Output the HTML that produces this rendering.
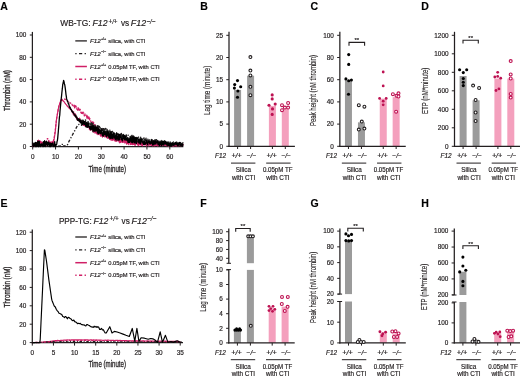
<!DOCTYPE html>
<html><head><meta charset="utf-8"><style>
html,body{margin:0;padding:0;background:#fff;overflow:hidden;}
svg{display:block;will-change:transform;color:#231f20;}
text{font-family:"Liberation Sans", sans-serif;stroke:currentColor;stroke-width:0.18px;}
</style></head><body>
<svg width="520" height="378" viewBox="0 0 520 378" fill="#231f20">
<rect width="520" height="378" fill="#fff"/>
<text x="0.30" y="9.80" font-size="10.5" font-weight="bold" fill="#000">A</text>
<text x="200.20" y="9.80" font-size="10.5" font-weight="bold" fill="#000">B</text>
<text x="310.60" y="9.90" font-size="10.5" font-weight="bold" fill="#000">C</text>
<text x="421.30" y="9.80" font-size="10.5" font-weight="bold" fill="#000">D</text>
<text x="0.50" y="207.00" font-size="10.5" font-weight="bold" fill="#000">E</text>
<text x="200.20" y="207.00" font-size="10.5" font-weight="bold" fill="#000">F</text>
<text x="310.60" y="207.10" font-size="10.5" font-weight="bold" fill="#000">G</text>
<text x="421.30" y="207.00" font-size="10.5" font-weight="bold" fill="#000">H</text>
<text x="60.20" y="26.40" font-size="8.4" textLength="30.40" lengthAdjust="spacingAndGlyphs">WB-TG:</text>
<text x="92.60" y="26.40" font-size="8.4" font-style="italic" textLength="14.90" lengthAdjust="spacingAndGlyphs">F12</text>
<text x="108.60" y="24.00" font-size="7.0" font-style="italic" textLength="8.80" lengthAdjust="spacingAndGlyphs">+/+</text>
<text x="120.90" y="26.40" font-size="8.4" textLength="8.20" lengthAdjust="spacingAndGlyphs">vs</text>
<text x="130.80" y="26.40" font-size="8.4" font-style="italic" textLength="15.30" lengthAdjust="spacingAndGlyphs">F12</text>
<text x="146.40" y="24.00" font-size="7.0" font-style="italic" textLength="9.00" lengthAdjust="spacingAndGlyphs">−/−</text>
<line x1="32.40" y1="31.90" x2="32.40" y2="147.10" stroke="#231f20" stroke-width="1.25"/>
<line x1="31.80" y1="146.50" x2="183.40" y2="146.50" stroke="#231f20" stroke-width="1.25"/>
<line x1="29.80" y1="146.50" x2="32.40" y2="146.50" stroke="#231f20" stroke-width="1.0"/>
<text x="26.40" y="148.80" font-size="6.4" text-anchor="end">0</text>
<line x1="29.80" y1="124.20" x2="32.40" y2="124.20" stroke="#231f20" stroke-width="1.0"/>
<text x="26.40" y="126.50" font-size="6.4" text-anchor="end">20</text>
<line x1="29.80" y1="101.90" x2="32.40" y2="101.90" stroke="#231f20" stroke-width="1.0"/>
<text x="26.40" y="104.20" font-size="6.4" text-anchor="end">40</text>
<line x1="29.80" y1="79.60" x2="32.40" y2="79.60" stroke="#231f20" stroke-width="1.0"/>
<text x="26.40" y="81.90" font-size="6.4" text-anchor="end">60</text>
<line x1="29.80" y1="57.30" x2="32.40" y2="57.30" stroke="#231f20" stroke-width="1.0"/>
<text x="26.40" y="59.60" font-size="6.4" text-anchor="end">80</text>
<line x1="29.80" y1="35.00" x2="32.40" y2="35.00" stroke="#231f20" stroke-width="1.0"/>
<text x="26.40" y="37.30" font-size="6.4" text-anchor="end">100</text>
<line x1="32.70" y1="146.50" x2="32.70" y2="149.50" stroke="#231f20" stroke-width="1.0"/>
<text x="32.70" y="159.20" font-size="6.4" text-anchor="middle">0</text>
<line x1="55.55" y1="146.50" x2="55.55" y2="149.50" stroke="#231f20" stroke-width="1.0"/>
<text x="55.55" y="159.20" font-size="6.4" text-anchor="middle">10</text>
<line x1="78.40" y1="146.50" x2="78.40" y2="149.50" stroke="#231f20" stroke-width="1.0"/>
<text x="78.40" y="159.20" font-size="6.4" text-anchor="middle">20</text>
<line x1="101.25" y1="146.50" x2="101.25" y2="149.50" stroke="#231f20" stroke-width="1.0"/>
<text x="101.25" y="159.20" font-size="6.4" text-anchor="middle">30</text>
<line x1="124.10" y1="146.50" x2="124.10" y2="149.50" stroke="#231f20" stroke-width="1.0"/>
<text x="124.10" y="159.20" font-size="6.4" text-anchor="middle">40</text>
<line x1="146.95" y1="146.50" x2="146.95" y2="149.50" stroke="#231f20" stroke-width="1.0"/>
<text x="146.95" y="159.20" font-size="6.4" text-anchor="middle">50</text>
<line x1="169.80" y1="146.50" x2="169.80" y2="149.50" stroke="#231f20" stroke-width="1.0"/>
<text x="169.80" y="159.20" font-size="6.4" text-anchor="middle">60</text>
<text x="107.20" y="172.00" font-size="8.7" text-anchor="middle" style="stroke-width:0.3px" textLength="37.60" lengthAdjust="spacingAndGlyphs">Time (minute)</text>
<text x="9.60" y="90.50" font-size="8.7" text-anchor="middle" style="stroke-width:0.3px" textLength="40.80" lengthAdjust="spacingAndGlyphs" transform="rotate(-90 9.60 90.50)">Thrombin (nM)</text>
<line x1="75.30" y1="40.90" x2="86.90" y2="40.90" stroke="#231f20" stroke-width="1.3"/>
<text x="89.90" y="43.00" font-size="5.8" font-style="italic" textLength="10.80" lengthAdjust="spacingAndGlyphs">F12</text>
<text x="100.90" y="40.40" font-size="3.9" textLength="5.40" lengthAdjust="spacingAndGlyphs">+/+</text>
<text x="108.30" y="43.00" font-size="5.8" textLength="37.00" lengthAdjust="spacingAndGlyphs">silica, with CTI</text>
<line x1="75.30" y1="53.70" x2="86.90" y2="53.70" stroke="#231f20" stroke-width="1.3" stroke-dasharray="1.3,2.4,3.2,2.4"/>
<text x="89.90" y="55.80" font-size="5.8" font-style="italic" textLength="10.80" lengthAdjust="spacingAndGlyphs">F12</text>
<text x="100.90" y="53.20" font-size="3.9" textLength="5.40" lengthAdjust="spacingAndGlyphs">−/−</text>
<text x="108.30" y="55.80" font-size="5.8" textLength="37.00" lengthAdjust="spacingAndGlyphs">silica, with CTI</text>
<line x1="75.30" y1="66.50" x2="86.90" y2="66.50" stroke="#d01f66" stroke-width="1.5"/>
<text x="89.90" y="68.60" font-size="5.8" font-style="italic" textLength="10.80" lengthAdjust="spacingAndGlyphs">F12</text>
<text x="100.90" y="66.00" font-size="3.9" textLength="5.40" lengthAdjust="spacingAndGlyphs">+/+</text>
<text x="108.30" y="68.60" font-size="5.8" textLength="51.40" lengthAdjust="spacingAndGlyphs">0.05pM TF, with CTI</text>
<line x1="75.30" y1="79.20" x2="86.90" y2="79.20" stroke="#d01f66" stroke-width="1.4" stroke-dasharray="1.3,2.4,3.2,2.4"/>
<text x="89.90" y="81.30" font-size="5.8" font-style="italic" textLength="10.80" lengthAdjust="spacingAndGlyphs">F12</text>
<text x="100.90" y="78.70" font-size="3.9" textLength="5.40" lengthAdjust="spacingAndGlyphs">−/−</text>
<text x="108.30" y="81.30" font-size="5.8" textLength="51.40" lengthAdjust="spacingAndGlyphs">0.05pM TF, with CTI</text>
<polyline points="32.70,146.50 33.00,145.67 33.29,146.27 33.59,145.24 33.89,145.05 34.19,146.50 34.48,146.50 34.78,143.91 35.08,146.14 35.37,146.14 35.67,142.99 35.97,145.00 36.26,143.24 36.56,144.18 36.86,143.02 37.16,144.47 37.45,142.02 37.75,140.58 38.05,141.46 38.34,140.07 38.64,140.46 38.94,143.19 39.24,140.69 39.53,141.65 39.83,143.11 40.13,144.48 40.42,141.42 40.72,143.27 41.02,142.38 41.31,141.84 41.61,142.59 41.91,141.86 42.21,144.07 42.50,142.53 42.80,144.06 43.10,142.19 43.39,142.51 43.69,145.74 43.99,145.69 44.28,145.20 44.58,141.81 44.88,143.55 45.18,142.39 45.47,143.31 45.77,142.10 46.07,142.20 46.36,141.95 46.66,140.63 46.96,140.24 47.26,138.57 47.55,139.08 47.85,138.52 48.15,139.25 48.44,139.14 48.74,140.86 49.04,143.34 49.33,140.97 49.63,140.99 49.93,141.53 50.23,142.88 50.52,142.30 50.82,144.31 51.12,141.82 51.41,142.86 51.71,144.02 52.01,144.91 52.31,141.73 52.60,142.86 52.90,143.01 53.20,141.32 53.49,140.28 53.79,139.17 54.09,137.82 54.38,136.26 54.68,134.74 54.98,132.70 55.28,129.82 55.57,127.62 55.87,124.68 56.17,122.38 56.46,119.51 56.76,117.71 57.06,116.26 57.36,114.22 57.65,112.90 57.95,111.30 58.25,109.24 58.54,107.85 58.84,106.32 59.14,105.47 59.43,104.62 59.73,104.17 60.03,103.51 60.33,102.29 60.62,101.90 60.92,100.79 61.22,100.10 61.51,99.74 61.81,99.64 62.11,99.55 62.41,99.42 62.70,99.40 63.00,99.37 63.30,99.28 63.59,99.04 63.89,99.25 64.19,99.24 64.48,99.02 64.78,99.33 65.08,99.47 65.38,99.24 65.67,99.70 65.97,99.86 66.27,100.37 66.56,100.31 66.86,100.39 67.16,100.91 67.45,100.73 67.75,100.95 68.05,101.52 68.35,101.41 68.64,101.73 68.94,101.83 69.24,102.25 69.53,102.26 69.83,102.47 70.13,103.13 70.43,103.33 70.72,103.19 71.02,103.24 71.32,103.88 71.61,104.12 71.91,103.78 72.21,105.08 72.50,105.11 72.80,105.53 73.10,105.51 73.40,104.81 73.69,106.20 73.99,106.10 74.29,104.72 74.58,107.92 74.88,105.98 75.18,105.56 75.48,107.52 75.77,108.12 76.07,106.04 76.37,108.56 76.66,109.02 76.96,108.28 77.26,107.48 77.55,110.12 77.85,109.49 78.15,109.70 78.45,107.94 78.74,109.78 79.04,108.36 79.34,111.37 79.63,110.95 79.93,109.94 80.23,109.25 80.53,111.24 80.82,112.40 81.12,113.08 81.42,111.71 81.71,113.34 82.01,111.13 82.31,111.27 82.60,114.17 82.90,114.05 83.20,112.20 83.50,113.13 83.79,112.74 84.09,114.85 84.39,115.99 84.68,115.60 84.98,113.85 85.28,116.22 85.57,116.21 85.87,116.22 86.17,116.49 86.47,116.83 86.76,115.06 87.06,118.42 87.36,119.32 87.65,115.84 87.95,116.39 88.25,116.25 88.55,118.75 88.84,116.97 89.14,117.36 89.44,120.48 89.73,118.67 90.03,118.62 90.33,119.66 90.62,120.57 90.92,121.84 91.22,121.96 91.52,122.76 91.81,123.74 92.11,121.99 92.41,123.53 92.70,121.77 93.00,125.18 93.30,122.07 93.60,123.26 93.89,122.67 94.19,123.12 94.49,123.44 94.78,125.08 95.08,127.68 95.38,125.08 95.67,127.72 95.97,127.54 96.27,126.42 96.57,127.31 96.86,128.11 97.16,126.37 97.46,128.04 97.75,129.49 98.05,130.21 98.35,128.13 98.65,130.03 98.94,129.17 99.24,131.26 99.54,132.24 99.83,131.25 100.13,130.48 100.43,133.44 100.72,131.31 101.02,131.15 101.32,131.92 101.62,131.98 101.91,135.38 102.21,133.01 102.51,132.20 102.80,135.59 103.10,134.83 103.40,134.97 103.69,134.05 103.99,134.60 104.29,134.53 104.59,133.43 104.88,136.67 105.18,136.58 105.48,136.42 105.77,136.56 106.07,136.91 106.37,133.40 106.67,134.01 106.96,137.22 107.26,135.68 107.56,136.55 107.85,136.68 108.15,136.66 108.45,135.60 108.74,135.97 109.04,137.01 109.34,137.81 109.64,137.39 109.93,138.34 110.23,136.73 110.53,136.20 110.82,137.64 111.12,138.93 111.42,138.63 111.72,137.94 112.01,137.10 112.31,136.47 112.61,138.18 112.90,136.58 113.20,137.39 113.50,138.24 113.79,138.57 114.09,138.17 114.39,137.43 114.69,138.65 114.98,137.64 115.28,138.67 115.58,139.63 115.87,138.55 116.17,138.00 116.47,140.60 116.77,139.27 117.06,139.35 117.36,137.62 117.66,137.49 117.95,139.83 118.25,137.82 118.55,138.34 118.84,140.56 119.14,139.84 119.44,141.29 119.74,138.60 120.03,139.27 120.33,138.43 120.63,138.87 120.92,139.44 121.22,139.23 121.52,139.98 121.82,141.89 122.11,140.01 122.41,142.42 122.71,141.92 123.00,139.45 123.30,142.45 123.60,142.32 123.89,142.36 124.19,139.28 124.49,142.16 124.79,142.85 125.08,139.63 125.38,142.59 125.68,139.75 125.97,140.50 126.27,139.91 126.57,139.51 126.86,141.07 127.16,140.25 127.46,143.37 127.76,140.50 128.05,141.59 128.35,140.84 128.65,143.35 128.94,140.83 129.24,140.15 129.54,143.72 129.84,142.73 130.13,141.83 130.43,140.83 130.73,143.25 131.02,143.56 131.32,143.30 131.62,141.86 131.91,141.34 132.21,142.81 132.51,142.95 132.81,142.86 133.10,143.07 133.40,142.83 133.70,144.20 133.99,142.56 134.29,140.69 134.59,142.97 134.89,141.65 135.18,144.04 135.48,141.94 135.78,141.71 136.07,142.07 136.37,142.72 136.67,142.89 136.96,142.28 137.26,141.31 137.56,144.28 137.86,144.52 138.15,142.00 138.45,141.38 138.75,142.96 139.04,143.27 139.34,142.24 139.64,144.31 139.94,144.03 140.23,144.31 140.53,142.87 140.83,143.93 141.12,144.26 141.42,142.57 141.72,141.62 142.01,144.10 142.31,142.61 142.61,143.72 142.91,142.12 143.20,143.15 143.50,144.34 143.80,144.55 144.09,145.28 144.39,143.65 144.69,144.03 144.98,144.81 145.28,144.16 145.58,144.33 145.88,142.74 146.17,145.01 146.47,142.04 146.77,143.88 147.06,143.48 147.36,143.95 147.66,142.69 147.96,142.75 148.25,143.68 148.55,143.95 148.85,143.14 149.14,142.69 149.44,144.26 149.74,143.14 150.03,142.39 150.33,144.07 150.63,144.87 150.93,144.86 151.22,143.27 151.52,143.42 151.82,142.50 152.11,142.86 152.41,144.88 152.71,145.06 153.01,144.84 153.30,145.08 153.60,143.42 153.90,142.95 154.19,142.83 154.49,144.90 154.79,142.97 155.08,144.73 155.38,144.39 155.68,143.45 155.98,145.47 156.27,145.45 156.57,143.17 156.87,144.85 157.16,144.66 157.46,143.99 157.76,143.71 158.06,145.75 158.35,144.77 158.65,144.47 158.95,144.33 159.24,145.17 159.54,144.06 159.84,142.99 160.13,144.66 160.43,144.22 160.73,145.47 161.03,145.03 161.32,143.91 161.62,145.51 161.92,143.30 162.21,143.26 162.51,145.57 162.81,143.20 163.10,144.81 163.40,143.71 163.70,143.76 164.00,145.05 164.29,144.02 164.59,144.09 164.89,143.69 165.18,145.17 165.48,143.86 165.78,143.32 166.08,144.11 166.37,144.49 166.67,145.62 166.97,144.62 167.26,145.00 167.56,144.06 167.86,144.18 168.15,144.48 168.45,145.48 168.75,144.30 169.05,144.35 169.34,145.51 169.64,143.73 169.94,144.33 170.23,145.66 170.53,143.66 170.83,145.62 171.13,145.15 171.42,144.20 171.72,144.51 172.02,144.62 172.31,144.40 172.61,144.86 172.91,145.21 173.20,145.53 173.50,145.79 173.80,144.28 174.10,144.20 174.39,144.69 174.69,144.25 174.99,145.12 175.28,145.34 175.58,145.07 175.88,143.98 176.18,145.84 176.47,144.81 176.77,145.39 177.07,144.24 177.36,145.16 177.66,145.21 177.96,145.06 178.25,144.76 178.55,144.26 178.85,145.19 179.15,144.10 179.44,145.73 179.74,145.38 180.04,145.77 180.33,145.74 180.63,144.28 180.93,144.40 181.23,145.60 181.52,145.59 181.82,145.10 182.12,144.38 182.41,144.22 182.71,144.38 183.01,144.73 183.30,145.72" fill="none" stroke="#d01f66" stroke-width="1.2" stroke-linejoin="round" stroke-dasharray="2.4,1.4"/>
<polyline points="32.70,144.11 33.00,144.04 33.29,146.50 33.59,146.50 33.89,144.16 34.19,144.45 34.48,144.61 34.78,145.95 35.08,144.65 35.37,144.54 35.67,144.53 35.97,146.12 36.26,144.92 36.56,144.96 36.86,143.53 37.16,142.33 37.45,142.29 37.75,143.62 38.05,143.73 38.34,144.15 38.64,144.79 38.94,144.54 39.24,142.49 39.53,142.79 39.83,142.79 40.13,141.02 40.42,142.78 40.72,142.93 41.02,144.53 41.31,145.67 41.61,144.75 41.91,145.73 42.21,144.23 42.50,142.27 42.80,143.57 43.10,145.55 43.39,142.69 43.69,143.08 43.99,143.33 44.28,142.64 44.58,143.21 44.88,143.11 45.18,144.86 45.47,142.34 45.77,142.42 46.07,145.63 46.36,143.25 46.66,143.38 46.96,144.36 47.26,144.05 47.55,144.17 47.85,142.39 48.15,144.05 48.44,142.69 48.74,144.57 49.04,142.41 49.33,142.31 49.63,144.03 49.93,143.57 50.23,142.12 50.52,142.87 50.82,143.79 51.12,144.80 51.41,144.32 51.71,142.75 52.01,144.82 52.31,141.78 52.60,144.28 52.90,143.04 53.20,143.34 53.49,142.88 53.79,141.17 54.09,139.43 54.38,137.55 54.68,135.61 54.98,133.78 55.28,131.45 55.57,128.61 55.87,125.53 56.17,122.38 56.46,119.67 56.76,118.26 57.06,116.07 57.36,114.39 57.65,112.54 57.95,111.23 58.25,109.16 58.54,107.83 58.84,106.01 59.14,105.39 59.43,104.58 59.73,103.34 60.03,102.96 60.33,101.87 60.62,100.83 60.92,100.35 61.22,99.53 61.51,99.21 61.81,99.73 62.11,99.81 62.41,100.47 62.70,100.52 63.00,100.89 63.30,100.83 63.59,101.44 63.89,101.22 64.19,102.17 64.48,102.13 64.78,102.95 65.08,103.20 65.38,103.25 65.67,104.04 65.97,104.41 66.27,104.49 66.56,105.07 66.86,105.66 67.16,105.48 67.45,106.37 67.75,106.77 68.05,106.90 68.35,107.07 68.64,107.31 68.94,108.02 69.24,108.21 69.53,108.72 69.83,108.79 70.13,108.92 70.43,109.26 70.72,109.49 71.02,109.90 71.32,110.16 71.61,109.88 71.91,111.14 72.21,112.45 72.50,111.09 72.80,112.87 73.10,114.12 73.40,113.12 73.69,111.80 73.99,115.19 74.29,113.75 74.58,114.91 74.88,114.81 75.18,116.69 75.48,113.81 75.77,117.01 76.07,116.01 76.37,117.15 76.66,119.15 76.96,117.33 77.26,119.31 77.55,119.96 77.85,120.36 78.15,120.15 78.45,120.72 78.74,118.86 79.04,119.68 79.34,118.08 79.63,118.58 79.93,118.65 80.23,122.01 80.53,121.47 80.82,122.51 81.12,121.36 81.42,121.45 81.71,120.96 82.01,121.54 82.31,123.58 82.60,123.13 82.90,122.93 83.20,125.24 83.50,125.33 83.79,124.05 84.09,125.47 84.39,123.22 84.68,125.38 84.98,126.16 85.28,126.05 85.57,126.07 85.87,126.34 86.17,125.34 86.47,125.79 86.76,126.63 87.06,125.51 87.36,127.45 87.65,124.88 87.95,124.87 88.25,126.03 88.55,127.43 88.84,127.34 89.14,127.28 89.44,129.62 89.73,128.36 90.03,128.12 90.33,129.68 90.62,130.20 90.92,127.53 91.22,129.46 91.52,129.02 91.81,127.57 92.11,129.00 92.41,130.46 92.70,127.85 93.00,130.48 93.30,132.07 93.60,129.57 93.89,132.09 94.19,131.44 94.49,129.46 94.78,130.31 95.08,133.12 95.38,131.55 95.67,131.89 95.97,131.76 96.27,133.05 96.57,131.69 96.86,133.93 97.16,133.26 97.46,133.08 97.75,131.00 98.05,134.62 98.35,132.07 98.65,134.50 98.94,133.15 99.24,134.05 99.54,133.94 99.83,132.95 100.13,134.56 100.43,135.83 100.72,136.00 101.02,136.34 101.32,133.41 101.62,134.36 101.91,133.19 102.21,134.37 102.51,137.16 102.80,134.72 103.10,134.36 103.40,134.68 103.69,135.70 103.99,136.37 104.29,136.08 104.59,134.81 104.88,137.05 105.18,136.13 105.48,136.43 105.77,134.62 106.07,135.34 106.37,134.93 106.67,135.43 106.96,137.70 107.26,138.07 107.56,137.15 107.85,138.18 108.15,137.61 108.45,136.71 108.74,135.86 109.04,137.30 109.34,136.48 109.64,139.48 109.93,138.55 110.23,136.08 110.53,139.60 110.82,138.60 111.12,140.10 111.42,140.11 111.72,136.95 112.01,136.67 112.31,138.13 112.61,140.30 112.90,139.72 113.20,140.07 113.50,138.40 113.79,138.45 114.09,139.51 114.39,139.26 114.69,141.00 114.98,139.37 115.28,137.82 115.58,138.69 115.87,141.43 116.17,139.83 116.47,139.13 116.77,141.06 117.06,138.59 117.36,140.42 117.66,139.54 117.95,140.83 118.25,138.55 118.55,139.49 118.84,140.42 119.14,142.23 119.44,141.13 119.74,142.85 120.03,140.64 120.33,139.55 120.63,142.42 120.92,141.16 121.22,141.33 121.52,141.69 121.82,140.53 122.11,139.68 122.41,140.66 122.71,141.66 123.00,139.75 123.30,142.34 123.60,140.73 123.89,141.14 124.19,140.78 124.49,140.48 124.79,143.05 125.08,141.52 125.38,142.46 125.68,141.45 125.97,140.27 126.27,141.70 126.57,144.26 126.86,142.50 127.16,141.57 127.46,140.93 127.76,141.93 128.05,141.32 128.35,144.58 128.65,140.93 128.94,141.84 129.24,142.39 129.54,141.25 129.84,141.39 130.13,144.60 130.43,141.79 130.73,142.04 131.02,144.37 131.32,142.21 131.62,142.86 131.91,144.47 132.21,142.04 132.51,144.74 132.81,142.86 133.10,143.60 133.40,144.35 133.70,143.12 133.99,143.54 134.29,144.62 134.59,141.59 134.89,145.20 135.18,145.50 135.48,143.59 135.78,142.21 136.07,142.95 136.37,142.60 136.67,143.69 136.96,142.97 137.26,144.33 137.56,144.62 137.86,143.72 138.15,145.60 138.45,145.41 138.75,142.82 139.04,145.09 139.34,142.89 139.64,142.79 139.94,144.27 140.23,143.26 140.53,142.87 140.83,142.60 141.12,145.38 141.42,145.30 141.72,144.50 142.01,144.21 142.31,144.87 142.61,145.94 142.91,143.94 143.20,142.46 143.50,144.69 143.80,144.09 144.09,144.68 144.39,144.49 144.69,142.97 144.98,145.02 145.28,143.82 145.58,144.44 145.88,144.27 146.17,142.96 146.47,145.95 146.77,143.34 147.06,145.18 147.36,143.99 147.66,143.48 147.96,143.98 148.25,144.89 148.55,143.35 148.85,145.93 149.14,144.08 149.44,144.91 149.74,144.44 150.03,143.37 150.33,143.56 150.63,144.13 150.93,145.21 151.22,145.46 151.52,144.72 151.82,145.47 152.11,145.32 152.41,143.10 152.71,145.87 153.01,143.58 153.30,145.01 153.60,145.06 153.90,145.21 154.19,145.98 154.49,144.78 154.79,145.70 155.08,144.83 155.38,145.31 155.68,143.43 155.98,143.36 156.27,144.85 156.57,144.25 156.87,143.36 157.16,145.22 157.46,145.92 157.76,145.50 158.06,145.65 158.35,144.18 158.65,145.10 158.95,145.16 159.24,143.86 159.54,145.53 159.84,143.84 160.13,144.36 160.43,145.05 160.73,143.82 161.03,145.22 161.32,143.68 161.62,143.56 161.92,144.78 162.21,144.25 162.51,143.53 162.81,144.12 163.10,144.10 163.40,143.78 163.70,143.61 164.00,144.13 164.29,143.51 164.59,145.41 164.89,144.51 165.18,144.39 165.48,145.21 165.78,145.14 166.08,145.74 166.37,143.65 166.67,145.26 166.97,144.95 167.26,143.86 167.56,145.71 167.86,143.71 168.15,145.87 168.45,146.12 168.75,145.30 169.05,145.28 169.34,143.87 169.64,143.97 169.94,144.29 170.23,145.10 170.53,144.85 170.83,145.60 171.13,144.14 171.42,145.23 171.72,145.49 172.02,144.64 172.31,145.82 172.61,145.42 172.91,143.98 173.20,145.95 173.50,145.84 173.80,145.69 174.10,145.59 174.39,145.20 174.69,145.59 174.99,145.38 175.28,145.60 175.58,145.62 175.88,144.79 176.18,145.41 176.47,145.33 176.77,144.46 177.07,146.02 177.36,145.85 177.66,144.29 177.96,145.23 178.25,144.46 178.55,145.89 178.85,145.04 179.15,144.33 179.44,145.45 179.74,144.51 180.04,144.86 180.33,145.34 180.63,144.02 180.93,145.36 181.23,145.18 181.52,144.87 181.82,145.54 182.12,144.39 182.41,144.93 182.71,144.95 183.01,145.07 183.30,144.09" fill="none" stroke="#d01f66" stroke-width="1.15" stroke-linejoin="round"/>
<polyline points="57.84,146.17 58.13,146.15 58.43,146.13 58.73,146.11 59.02,146.09 59.32,146.07 59.62,146.06 59.91,146.04 60.21,146.02 60.51,146.00 60.81,145.98 61.10,145.97 61.40,145.95 61.70,145.54 61.99,144.96 62.29,144.38 62.59,143.80 62.88,144.20 63.18,144.78 63.48,145.36 63.78,145.94 64.07,145.96 64.37,145.98 64.67,146.00 64.96,146.03 65.26,146.05 65.56,146.07 65.86,146.09 66.15,146.11 66.45,146.13 66.75,146.15 67.04,145.98 67.34,145.19 67.64,144.40 67.93,143.61 68.23,142.82 68.53,142.26 68.83,141.71 69.12,141.15 69.42,140.60 69.72,140.04 70.01,139.49 70.31,138.93 70.61,138.38 70.91,137.82 71.20,137.26 71.50,136.71 71.80,136.15 72.09,135.60 72.39,135.04 72.69,134.49 72.98,133.93 73.28,133.37 73.58,132.82 73.88,132.26 74.17,131.71 74.47,131.15 74.77,130.60 75.06,130.04 75.36,129.49 75.66,128.93 75.96,128.37 76.25,127.82 76.55,127.26 76.85,126.71 77.14,126.15 77.44,125.60 77.74,125.04 78.03,124.78 78.33,124.64 78.63,124.51 78.93,124.38 79.22,124.25 79.52,124.11 79.82,123.98 80.11,123.85 80.41,123.72 80.71,120.75 81.00,121.99 81.30,120.45 81.60,126.20 81.90,124.39 82.19,120.13 82.49,121.28 82.79,123.52 83.08,120.15 83.38,122.13 83.68,120.86 83.98,124.10 84.27,124.69 84.57,123.08 84.87,124.96 85.16,123.39 85.46,119.83 85.76,123.86 86.05,125.98 86.35,125.86 86.65,125.18 86.95,121.44 87.24,124.18 87.54,124.73 87.84,126.04 88.13,120.61 88.43,124.20 88.73,125.65 89.03,126.68 89.32,126.81 89.62,126.20 89.92,123.14 90.21,126.58 90.51,127.40 90.81,124.74 91.10,126.39 91.40,121.86 91.70,127.47 92.00,125.08 92.29,123.69 92.59,126.12 92.89,122.65 93.18,125.98 93.48,127.60 93.78,126.69 94.08,129.17 94.37,126.91 94.67,128.13 94.97,124.28 95.26,124.79 95.56,127.01 95.86,130.07 96.15,128.82 96.45,129.04 96.75,129.40 97.05,129.40 97.34,125.56 97.64,130.25 97.94,130.96 98.23,125.63 98.53,128.04 98.83,125.53 99.12,129.34 99.42,126.38 99.72,128.07 100.02,127.36 100.31,127.79 100.61,129.50 100.91,132.15 101.20,131.56 101.50,127.53 101.80,127.48 102.10,127.43 102.39,131.21 102.69,129.32 102.99,128.54 103.28,129.63 103.58,128.66 103.88,130.56 104.17,129.88 104.47,129.79 104.77,132.51 105.07,128.53 105.36,128.43 105.66,134.05 105.96,128.56 106.25,128.72 106.55,130.66 106.85,134.67 107.15,129.44 107.44,134.37 107.74,129.22 108.04,131.21 108.33,135.11 108.63,134.55 108.93,131.74 109.22,132.26 109.52,131.26 109.82,130.24 110.12,134.78 110.41,136.23 110.71,130.58 111.01,136.35 111.30,131.05 111.60,135.89 111.90,131.65 112.20,131.90 112.49,131.40 112.79,133.54 113.09,131.58 113.38,135.90 113.68,133.05 113.98,135.27 114.27,131.86 114.57,132.69 114.87,134.66 115.17,134.41 115.46,137.62 115.76,137.67 116.06,134.26 116.35,135.01 116.65,132.75 116.95,134.44 117.25,137.47 117.54,136.16 117.84,133.72 118.14,135.34 118.43,138.63 118.73,133.56 119.03,133.71 119.32,138.44 119.62,135.65 119.92,136.73 120.22,134.25 120.51,137.28 120.81,137.82 121.11,136.30 121.40,133.36 121.70,138.86 122.00,138.80 122.29,135.69 122.59,134.10 122.89,136.49 123.19,137.03 123.48,134.44 123.78,135.01 124.08,139.50 124.37,134.47 124.67,138.81 124.97,138.20 125.27,134.93 125.56,137.57 125.86,135.28 126.16,139.28 126.45,134.92 126.75,139.34 127.05,139.56 127.34,137.47 127.64,138.50 127.94,137.29 128.24,135.08 128.53,136.35 128.83,140.81 129.13,138.96 129.42,137.56 129.72,137.98 130.02,136.61 130.32,138.11 130.61,140.72 130.91,139.72 131.21,136.01 131.50,139.13 131.80,136.62 132.10,135.30 132.39,137.60 132.69,137.34 132.99,137.81 133.29,139.71 133.58,136.02 133.88,138.85 134.18,136.13 134.47,139.96 134.77,136.51 135.07,137.06 135.37,138.20 135.66,139.32 135.96,141.24 136.26,137.38 136.55,139.96 136.85,138.17 137.15,141.47 137.44,141.82 137.74,141.49 138.04,137.50 138.34,141.37 138.63,137.05 138.93,140.30 139.23,139.12 139.52,140.52 139.82,138.96 140.12,142.15 140.41,140.36 140.71,137.27 141.01,141.77 141.31,139.04 141.60,141.00 141.90,141.20 142.20,142.86 142.49,142.92 142.79,137.62 143.09,138.36 143.39,138.59 143.68,138.61 143.98,137.84 144.28,142.39 144.57,140.04 144.87,140.59 145.17,140.20 145.46,138.23 145.76,139.27 146.06,138.18 146.36,142.93 146.65,140.04 146.95,139.97 147.25,139.63 147.54,140.36 147.84,139.24 148.14,142.13 148.44,138.80 148.73,141.64 149.03,140.64 149.33,139.10 149.62,140.16 149.92,142.27 150.22,142.72 150.51,142.25 150.81,140.72 151.11,138.84 151.41,139.39 151.70,141.99 152.00,142.02 152.30,139.93 152.59,142.68 152.89,142.07 153.19,144.11 153.49,143.28 153.78,141.52 154.08,140.80 154.38,141.23 154.67,142.50 154.97,139.65 155.27,141.30 155.56,143.61 155.86,144.07 156.16,139.71 156.46,139.69 156.75,140.06 157.05,141.61 157.35,143.04 157.64,144.11 157.94,143.35 158.24,143.55 158.53,140.28 158.83,140.48 159.13,141.05 159.43,143.99 159.72,143.60 160.02,143.34 160.32,140.41 160.61,144.01 160.91,141.20 161.21,141.73 161.51,142.36 161.80,140.55 162.10,143.68 162.40,142.55 162.69,144.19 162.99,144.47 163.29,144.78 163.58,143.57 163.88,144.43 164.18,144.71 164.48,140.76 164.77,143.78 165.07,141.27 165.37,142.10 165.66,142.01 165.96,142.36 166.26,141.16 166.56,141.50 166.85,142.19 167.15,142.87 167.45,142.36 167.74,142.27 168.04,143.00 168.34,143.23 168.63,144.64 168.93,141.93 169.23,143.38 169.53,145.05 169.82,144.67 170.12,141.94 170.42,144.35 170.71,143.84 171.01,142.74 171.31,142.08 171.61,144.11 171.90,143.91 172.20,143.78 172.50,145.26 172.79,142.13 173.09,145.31 173.39,141.87 173.68,144.83 173.98,144.82 174.28,142.34 174.58,142.45 174.87,144.58 175.17,143.45 175.47,143.74 175.76,142.91 176.06,144.78 176.36,142.57 176.66,142.01 176.95,143.02 177.25,142.29 177.55,142.25 177.84,144.18 178.14,142.59 178.44,142.65 178.73,143.51 179.03,145.18 179.33,143.43 179.63,142.44 179.92,144.54 180.22,143.38 180.52,142.54 180.81,143.57 181.11,145.52 181.41,143.49 181.70,144.80 182.00,142.74 182.30,143.43 182.60,144.66 182.89,142.66 183.19,143.60 183.49,144.60" fill="none" stroke="#231f20" stroke-width="1.35" stroke-linejoin="round" stroke-dasharray="3.0,1.8,1.2,1.8"/>
<polyline points="32.70,146.50 33.00,142.99 33.29,143.48 33.59,146.50 33.89,145.13 34.19,145.36 34.48,143.94 34.78,142.95 35.08,146.50 35.37,146.50 35.67,142.41 35.97,145.04 36.26,142.76 36.56,146.50 36.86,144.74 37.16,142.82 37.45,146.06 37.75,141.23 38.05,141.49 38.34,146.50 38.64,146.50 38.94,143.79 39.24,141.09 39.53,144.79 39.83,145.85 40.13,144.44 40.42,146.50 40.72,145.71 41.02,144.23 41.31,143.80 41.61,145.53 41.91,145.52 42.21,145.64 42.50,144.06 42.80,145.24 43.10,146.50 43.39,141.64 43.69,143.56 43.99,143.02 44.28,146.11 44.58,140.75 44.88,141.68 45.18,146.50 45.47,145.27 45.77,142.71 46.07,142.82 46.36,141.34 46.66,144.82 46.96,142.13 47.26,143.23 47.55,145.72 47.85,143.86 48.15,141.92 48.44,142.20 48.74,144.52 49.04,144.00 49.33,146.50 49.63,146.38 49.93,142.71 50.23,145.31 50.52,146.50 50.82,144.48 51.12,143.47 51.41,143.66 51.71,145.67 52.01,145.24 52.31,144.77 52.60,142.96 52.90,144.69 53.20,145.54 53.49,144.90 53.79,146.50 54.09,146.50 54.38,143.47 54.68,141.59 54.98,144.20 55.28,145.54 55.57,146.50 55.87,145.01 56.17,144.40 56.46,144.93 56.76,143.63 57.06,141.40 57.36,140.76 57.65,138.60 57.95,135.36 58.25,132.16 58.54,128.55 58.84,125.05 59.14,120.76 59.43,116.85 59.73,115.39 60.03,111.04 60.33,107.92 60.62,104.76 60.92,101.95 61.22,98.80 61.51,96.32 61.81,93.27 62.11,90.53 62.41,88.18 62.70,84.67 63.00,83.55 63.30,82.55 63.59,80.41 63.89,81.10 64.19,82.64 64.48,84.00 64.78,85.01 65.08,86.95 65.38,89.11 65.67,91.51 65.97,94.37 66.27,96.17 66.56,98.40 66.86,99.86 67.16,100.11 67.45,100.92 67.75,101.63 68.05,102.30 68.35,103.95 68.64,103.68 68.94,104.67 69.24,106.36 69.53,107.18 69.83,107.82 70.13,107.10 70.43,108.47 70.72,109.23 71.02,108.89 71.32,109.88 71.61,110.86 71.91,111.26 72.21,111.06 72.50,112.16 72.80,112.40 73.10,111.95 73.40,112.90 73.69,113.61 73.99,113.71 74.29,115.16 74.58,114.76 74.88,115.11 75.18,116.13 75.48,116.78 75.77,115.19 76.07,116.64 76.37,117.89 76.66,117.24 76.96,117.06 77.26,119.80 77.55,120.24 77.85,120.16 78.15,118.68 78.45,120.73 78.74,119.26 79.04,119.61 79.34,120.33 79.63,121.73 79.93,119.37 80.23,120.26 80.53,121.54 80.82,122.91 81.12,121.50 81.42,122.59 81.71,122.02 82.01,123.15 82.31,122.04 82.60,124.51 82.90,123.66 83.20,120.97 83.50,121.47 83.79,124.05 84.09,121.75 84.39,124.32 84.68,121.59 84.98,122.64 85.28,124.35 85.57,125.34 85.87,126.73 86.17,122.71 86.47,127.04 86.76,123.35 87.06,122.80 87.36,124.98 87.65,127.25 87.95,123.80 88.25,123.41 88.55,125.03 88.84,126.29 89.14,127.21 89.44,127.59 89.73,128.59 90.03,126.09 90.33,127.62 90.62,129.17 90.92,129.87 91.22,126.67 91.52,129.05 91.81,127.96 92.11,129.18 92.41,125.92 92.70,125.87 93.00,131.61 93.30,130.61 93.60,129.95 93.89,125.77 94.19,127.24 94.49,130.34 94.78,131.33 95.08,128.38 95.38,127.44 95.67,126.95 95.97,131.03 96.27,127.57 96.57,129.02 96.86,130.53 97.16,127.32 97.46,132.49 97.75,129.35 98.05,133.78 98.35,133.36 98.65,128.54 98.94,133.36 99.24,129.85 99.54,131.06 99.83,129.59 100.13,132.90 100.43,133.23 100.72,133.70 101.02,129.99 101.32,131.89 101.62,129.63 101.91,130.17 102.21,135.29 102.51,132.60 102.80,135.68 103.10,136.21 103.40,136.07 103.69,130.86 103.99,131.47 104.29,131.29 104.59,134.64 104.88,132.90 105.18,131.88 105.48,134.67 105.77,133.47 106.07,135.88 106.37,136.92 106.67,135.77 106.96,131.69 107.26,133.96 107.56,131.64 107.85,134.86 108.15,136.16 108.45,132.84 108.74,132.66 109.04,138.20 109.34,133.89 109.64,137.85 109.93,137.79 110.23,132.73 110.53,138.46 110.82,137.20 111.12,132.26 111.42,136.13 111.72,138.25 112.01,137.97 112.31,137.55 112.61,134.26 112.90,138.62 113.20,133.29 113.50,136.92 113.79,133.03 114.09,133.52 114.39,137.70 114.69,138.05 114.98,136.62 115.28,139.22 115.58,135.60 115.87,139.77 116.17,140.04 116.47,133.60 116.77,138.27 117.06,136.33 117.36,137.39 117.66,138.37 117.95,140.12 118.25,134.50 118.55,134.20 118.84,134.27 119.14,140.09 119.44,139.46 119.74,136.83 120.03,134.47 120.33,137.45 120.63,136.54 120.92,136.77 121.22,139.52 121.52,137.69 121.82,139.32 122.11,139.78 122.41,140.94 122.71,139.67 123.00,135.02 123.30,138.66 123.60,137.36 123.89,137.47 124.19,135.54 124.49,139.28 124.79,139.90 125.08,139.82 125.38,139.95 125.68,136.46 125.97,136.21 126.27,140.21 126.57,140.06 126.86,138.72 127.16,138.54 127.46,138.49 127.76,140.89 128.05,142.45 128.35,141.02 128.65,142.22 128.94,139.07 129.24,142.35 129.54,142.38 129.84,138.69 130.13,141.05 130.43,137.75 130.73,139.81 131.02,137.39 131.32,142.17 131.62,139.89 131.91,137.97 132.21,142.81 132.51,137.02 132.81,142.25 133.10,138.26 133.40,136.91 133.70,138.04 133.99,141.44 134.29,142.91 134.59,140.22 134.89,137.55 135.18,141.78 135.48,137.81 135.78,142.87 136.07,137.79 136.37,143.67 136.67,141.82 136.96,137.99 137.26,138.70 137.56,138.07 137.86,138.55 138.15,139.21 138.45,139.63 138.75,142.97 139.04,141.37 139.34,143.17 139.64,139.65 139.94,139.99 140.23,142.67 140.53,143.90 140.83,138.27 141.12,139.29 141.42,140.96 141.72,141.05 142.01,139.17 142.31,141.68 142.61,142.08 142.91,142.47 143.20,143.00 143.50,144.46 143.80,140.71 144.09,142.15 144.39,141.26 144.69,144.36 144.98,142.64 145.28,143.97 145.58,144.08 145.88,143.32 146.17,139.99 146.47,142.57 146.77,142.59 147.06,141.39 147.36,143.63 147.66,144.97 147.96,141.97 148.25,142.16 148.55,141.34 148.85,142.58 149.14,141.19 149.44,140.97 149.74,143.79 150.03,142.37 150.33,142.49 150.63,143.93 150.93,142.92 151.22,142.12 151.52,140.24 151.82,140.22 152.11,143.77 152.41,141.77 152.71,145.06 153.01,144.95 153.30,142.60 153.60,140.66 153.90,144.54 154.19,141.33 154.49,140.75 154.79,143.80 155.08,141.82 155.38,141.04 155.68,143.56 155.98,141.88 156.27,141.73 156.57,142.49 156.87,141.18 157.16,141.01 157.46,140.73 157.76,142.73 158.06,144.76 158.35,144.40 158.65,144.58 158.95,142.85 159.24,141.94 159.54,145.44 159.84,142.36 160.13,142.21 160.43,144.04 160.73,143.24 161.03,144.95 161.32,142.25 161.62,145.57 161.92,141.11 162.21,141.96 162.51,142.83 162.81,144.55 163.10,141.55 163.40,141.36 163.70,145.19 164.00,142.27 164.29,141.99 164.59,142.85 164.89,142.69 165.18,143.87 165.48,141.73 165.78,141.55 166.08,144.21 166.37,142.36 166.67,144.02 166.97,145.21 167.26,144.52 167.56,145.41 167.86,142.04 168.15,141.85 168.45,145.47 168.75,143.43 169.05,144.27 169.34,145.51 169.64,144.78 169.94,144.99 170.23,142.92 170.53,146.01 170.83,145.25 171.13,144.24 171.42,145.95 171.72,143.50 172.02,143.60 172.31,142.70 172.61,145.22 172.91,144.91 173.20,143.91 173.50,144.97 173.80,143.76 174.10,145.07 174.39,143.42 174.69,143.02 174.99,142.97 175.28,142.37 175.58,144.00 175.88,144.22 176.18,142.87 176.47,143.21 176.77,143.96 177.07,144.66 177.36,145.04 177.66,145.70 177.96,143.14 178.25,145.68 178.55,143.38 178.85,144.14 179.15,142.60 179.44,143.37 179.74,142.60 180.04,145.69 180.33,144.36 180.63,144.11 180.93,145.08 181.23,144.39 181.52,144.94 181.82,144.32 182.12,146.27 182.41,144.66 182.71,144.65 183.01,145.19 183.30,144.85" fill="none" stroke="#000" stroke-width="1.3" stroke-linejoin="round"/>
<text x="58.90" y="223.60" font-size="8.4" textLength="32.80" lengthAdjust="spacingAndGlyphs">PPP-TG:</text>
<text x="93.50" y="223.60" font-size="8.4" font-style="italic" textLength="14.90" lengthAdjust="spacingAndGlyphs">F12</text>
<text x="109.60" y="221.20" font-size="7.0" font-style="italic" textLength="9.20" lengthAdjust="spacingAndGlyphs">+/+</text>
<text x="121.60" y="223.60" font-size="8.4" textLength="8.20" lengthAdjust="spacingAndGlyphs">vs</text>
<text x="131.60" y="223.60" font-size="8.4" font-style="italic" textLength="15.40" lengthAdjust="spacingAndGlyphs">F12</text>
<text x="146.90" y="221.20" font-size="7.0" font-style="italic" textLength="9.60" lengthAdjust="spacingAndGlyphs">−/−</text>
<line x1="32.30" y1="229.40" x2="32.30" y2="343.20" stroke="#231f20" stroke-width="1.25"/>
<line x1="31.70" y1="342.60" x2="183.00" y2="342.60" stroke="#231f20" stroke-width="1.25"/>
<line x1="29.70" y1="342.60" x2="32.30" y2="342.60" stroke="#231f20" stroke-width="1.0"/>
<text x="26.30" y="344.90" font-size="6.4" text-anchor="end">0</text>
<line x1="29.70" y1="324.20" x2="32.30" y2="324.20" stroke="#231f20" stroke-width="1.0"/>
<text x="26.30" y="326.50" font-size="6.4" text-anchor="end">20</text>
<line x1="29.70" y1="305.80" x2="32.30" y2="305.80" stroke="#231f20" stroke-width="1.0"/>
<text x="26.30" y="308.10" font-size="6.4" text-anchor="end">40</text>
<line x1="29.70" y1="287.40" x2="32.30" y2="287.40" stroke="#231f20" stroke-width="1.0"/>
<text x="26.30" y="289.70" font-size="6.4" text-anchor="end">60</text>
<line x1="29.70" y1="269.00" x2="32.30" y2="269.00" stroke="#231f20" stroke-width="1.0"/>
<text x="26.30" y="271.30" font-size="6.4" text-anchor="end">80</text>
<line x1="29.70" y1="250.60" x2="32.30" y2="250.60" stroke="#231f20" stroke-width="1.0"/>
<text x="26.30" y="252.90" font-size="6.4" text-anchor="end">100</text>
<line x1="29.70" y1="232.20" x2="32.30" y2="232.20" stroke="#231f20" stroke-width="1.0"/>
<text x="26.30" y="234.50" font-size="6.4" text-anchor="end">120</text>
<line x1="32.30" y1="342.60" x2="32.30" y2="345.60" stroke="#231f20" stroke-width="1.0"/>
<text x="32.30" y="355.00" font-size="6.4" text-anchor="middle">0</text>
<line x1="53.43" y1="342.60" x2="53.43" y2="345.60" stroke="#231f20" stroke-width="1.0"/>
<text x="53.43" y="355.00" font-size="6.4" text-anchor="middle">5</text>
<line x1="74.56" y1="342.60" x2="74.56" y2="345.60" stroke="#231f20" stroke-width="1.0"/>
<text x="74.56" y="355.00" font-size="6.4" text-anchor="middle">10</text>
<line x1="95.69" y1="342.60" x2="95.69" y2="345.60" stroke="#231f20" stroke-width="1.0"/>
<text x="95.69" y="355.00" font-size="6.4" text-anchor="middle">15</text>
<line x1="116.82" y1="342.60" x2="116.82" y2="345.60" stroke="#231f20" stroke-width="1.0"/>
<text x="116.82" y="355.00" font-size="6.4" text-anchor="middle">20</text>
<line x1="137.95" y1="342.60" x2="137.95" y2="345.60" stroke="#231f20" stroke-width="1.0"/>
<text x="137.95" y="355.00" font-size="6.4" text-anchor="middle">25</text>
<line x1="159.08" y1="342.60" x2="159.08" y2="345.60" stroke="#231f20" stroke-width="1.0"/>
<text x="159.08" y="355.00" font-size="6.4" text-anchor="middle">30</text>
<line x1="180.21" y1="342.60" x2="180.21" y2="345.60" stroke="#231f20" stroke-width="1.0"/>
<text x="180.21" y="355.00" font-size="6.4" text-anchor="middle">35</text>
<text x="107.20" y="366.50" font-size="8.7" text-anchor="middle" style="stroke-width:0.3px" textLength="37.60" lengthAdjust="spacingAndGlyphs">Time (minute)</text>
<text x="9.50" y="287.00" font-size="8.7" text-anchor="middle" style="stroke-width:0.3px" textLength="40.80" lengthAdjust="spacingAndGlyphs" transform="rotate(-90 9.50 287.00)">Thrombin (nM)</text>
<line x1="75.30" y1="237.00" x2="86.90" y2="237.00" stroke="#231f20" stroke-width="1.3"/>
<text x="89.90" y="239.10" font-size="5.8" font-style="italic" textLength="10.80" lengthAdjust="spacingAndGlyphs">F12</text>
<text x="100.90" y="236.50" font-size="3.9" textLength="5.40" lengthAdjust="spacingAndGlyphs">+/+</text>
<text x="108.30" y="239.10" font-size="5.8" textLength="37.00" lengthAdjust="spacingAndGlyphs">silica, with CTI</text>
<line x1="75.30" y1="249.80" x2="86.90" y2="249.80" stroke="#231f20" stroke-width="1.3" stroke-dasharray="1.3,2.4,3.2,2.4"/>
<text x="89.90" y="251.90" font-size="5.8" font-style="italic" textLength="10.80" lengthAdjust="spacingAndGlyphs">F12</text>
<text x="100.90" y="249.30" font-size="3.9" textLength="5.40" lengthAdjust="spacingAndGlyphs">−/−</text>
<text x="108.30" y="251.90" font-size="5.8" textLength="37.00" lengthAdjust="spacingAndGlyphs">silica, with CTI</text>
<line x1="75.30" y1="262.70" x2="86.90" y2="262.70" stroke="#d01f66" stroke-width="1.5"/>
<text x="89.90" y="264.80" font-size="5.8" font-style="italic" textLength="10.80" lengthAdjust="spacingAndGlyphs">F12</text>
<text x="100.90" y="262.20" font-size="3.9" textLength="5.40" lengthAdjust="spacingAndGlyphs">+/+</text>
<text x="108.30" y="264.80" font-size="5.8" textLength="51.40" lengthAdjust="spacingAndGlyphs">0.05pM TF, with CTI</text>
<line x1="75.30" y1="275.30" x2="86.90" y2="275.30" stroke="#d01f66" stroke-width="1.4" stroke-dasharray="1.3,2.4,3.2,2.4"/>
<text x="89.90" y="277.40" font-size="5.8" font-style="italic" textLength="10.80" lengthAdjust="spacingAndGlyphs">F12</text>
<text x="100.90" y="274.80" font-size="3.9" textLength="5.40" lengthAdjust="spacingAndGlyphs">−/−</text>
<text x="108.30" y="277.40" font-size="5.8" textLength="51.40" lengthAdjust="spacingAndGlyphs">0.05pM TF, with CTI</text>
<polyline points="32.30,342.57 33.36,342.52 34.41,342.49 35.47,342.43 36.53,342.46 37.58,342.39 38.64,342.57 39.70,342.45 40.75,342.32 41.81,342.27 42.86,342.10 43.92,342.16 44.98,341.96 46.03,341.90 47.09,341.72 48.15,341.59 49.20,341.60 50.26,341.43 51.32,341.29 52.37,341.02 53.43,340.93 54.49,340.94 55.54,340.67 56.60,340.69 57.66,340.46 58.71,340.51 59.77,340.48 60.83,340.23 61.88,340.32 62.94,340.26 63.99,340.03 65.05,340.00 66.11,340.07 67.16,339.91 68.22,339.98 69.28,339.94 70.33,340.03 71.39,339.85 72.45,339.89 73.50,339.81 74.56,339.81 75.62,339.93 76.67,339.90 77.73,339.93 78.79,339.92 79.84,339.95 80.90,339.91 81.96,339.85 83.01,340.00 84.07,339.86 85.12,339.94 86.18,339.96 87.24,339.86 88.29,339.95 89.35,340.00 90.41,339.97 91.46,339.93 92.52,340.09 93.58,339.90 94.63,340.12 95.69,339.97 96.75,339.97 97.80,340.18 98.86,340.03 99.92,340.15 100.97,340.12 102.03,340.27 103.09,340.29 104.14,340.28 105.20,340.13 106.25,340.32 107.31,340.22 108.37,340.21 109.42,340.23 110.48,340.38 111.54,340.40 112.59,340.39 113.65,340.35 114.71,340.52 115.76,340.41 116.82,340.42 117.88,340.42 118.93,340.62 119.99,340.44 121.05,340.65 122.10,340.61 123.16,340.57 124.22,340.53 125.27,340.67 126.33,340.56 127.38,340.67 128.44,340.74 129.50,340.75 130.55,340.80 131.61,340.85 132.67,340.85 133.72,340.75 134.78,340.70 135.84,340.90 136.89,340.95 137.95,340.76 139.01,340.88 140.06,340.93 141.12,340.98 142.18,340.92 143.23,340.89 144.29,340.98 145.35,341.01 146.40,341.10 147.46,340.93 148.51,341.14 149.57,341.05 150.63,340.99 151.68,341.16 152.74,341.05 153.80,341.01 154.85,341.10 155.91,341.08 156.97,341.25 158.02,341.19 159.08,341.27 160.14,341.13 161.19,341.27 162.25,341.25 163.31,341.14 164.36,341.19 165.42,341.18 166.48,341.31 167.53,341.31 168.59,341.28 169.64,341.35 170.70,341.40 171.76,341.39 172.81,341.47 173.87,341.43 174.93,341.31 175.98,341.33 177.04,341.42 178.10,341.47 179.15,341.52 180.21,341.59" fill="none" stroke="#d01f66" stroke-width="1.2" stroke-linejoin="round"/>
<polyline points="32.30,342.54 33.36,342.51 34.41,342.56 35.47,342.58 36.53,342.60 37.58,342.45 38.64,342.47 39.70,342.38 40.75,342.44 41.81,342.29 42.86,342.33 43.92,342.14 44.98,342.09 46.03,342.09 47.09,341.99 48.15,341.89 49.20,341.93 50.26,341.76 51.32,341.61 52.37,341.64 53.43,341.43 54.49,341.36 55.54,341.24 56.60,341.26 57.66,341.22 58.71,341.02 59.77,340.97 60.83,341.00 61.88,341.03 62.94,340.96 63.99,340.82 65.05,340.85 66.11,340.66 67.16,340.69 68.22,340.73 69.28,340.59 70.33,340.61 71.39,340.47 72.45,340.47 73.50,340.56 74.56,340.52 75.62,340.50 76.67,340.47 77.73,340.43 78.79,340.63 79.84,340.55 80.90,340.50 81.96,340.56 83.01,340.49 84.07,340.59 85.12,340.41 86.18,340.48 87.24,340.57 88.29,340.46 89.35,340.55 90.41,340.59 91.46,340.54 92.52,340.63 93.58,340.63 94.63,340.50 95.69,340.55 96.75,340.72 97.80,340.56 98.86,340.74 99.92,340.69 100.97,340.57 102.03,340.65 103.09,340.73 104.14,340.73 105.20,340.74 106.25,340.81 107.31,340.64 108.37,340.86 109.42,340.79 110.48,340.74 111.54,340.83 112.59,340.72 113.65,340.90 114.71,340.75 115.76,340.79 116.82,340.85 117.88,340.82 118.93,340.94 119.99,340.87 121.05,340.89 122.10,340.97 123.16,341.00 124.22,340.96 125.27,341.04 126.33,341.13 127.38,341.00 128.44,341.12 129.50,341.09 130.55,341.04 131.61,341.19 132.67,341.24 133.72,341.24 134.78,341.15 135.84,341.22 136.89,341.26 137.95,341.23 139.01,341.14 140.06,341.30 141.12,341.27 142.18,341.18 143.23,341.25 144.29,341.34 145.35,341.31 146.40,341.32 147.46,341.40 148.51,341.36 149.57,341.39 150.63,341.29 151.68,341.41 152.74,341.35 153.80,341.29 154.85,341.31 155.91,341.44 156.97,341.40 158.02,341.48 159.08,341.47 160.14,341.46 161.19,341.41 162.25,341.39 163.31,341.54 164.36,341.62 165.42,341.53 166.48,341.63 167.53,341.65 168.59,341.49 169.64,341.65 170.70,341.53 171.76,341.62 172.81,341.50 173.87,341.53 174.93,341.72 175.98,341.70 177.04,341.55 178.10,341.63 179.15,341.69 180.21,341.62" fill="none" stroke="#d01f66" stroke-width="1.1" stroke-linejoin="round" stroke-dasharray="2.2,1.5"/>
<polyline points="32.30,342.60 33.36,342.60 34.41,342.48 35.47,342.60 36.53,342.45 37.58,342.48 38.64,342.56 39.70,342.36 40.75,342.49 41.81,342.29 42.86,342.37 43.92,342.30 44.98,342.12 46.03,341.92 47.09,342.12 48.15,342.02 49.20,341.82 50.26,341.69 51.32,341.81 52.37,341.87 53.43,341.64 54.49,341.97 55.54,341.66 56.60,341.86 57.66,341.90 58.71,341.90 59.77,341.82 60.83,341.62 61.88,341.84 62.94,341.68 63.99,341.65 65.05,341.74 66.11,341.66 67.16,341.84 68.22,341.84 69.28,341.79 70.33,341.61 71.39,341.71 72.45,341.75 73.50,341.65 74.56,341.70 75.62,341.75 76.67,341.57 77.73,341.61 78.79,341.77 79.84,341.65 80.90,341.67 81.96,341.54 83.01,341.60 84.07,341.76 85.12,341.50 86.18,341.82 87.24,341.71 88.29,341.59 89.35,341.81 90.41,341.68 91.46,341.85 92.52,341.62 93.58,341.58 94.63,341.65 95.69,341.54 96.75,341.76 97.80,341.62 98.86,341.67 99.92,341.68 100.97,341.73 102.03,341.60 103.09,341.56 104.14,341.74 105.20,341.68 106.25,341.91 107.31,341.68 108.37,341.71 109.42,341.59 110.48,341.66 111.54,341.86 112.59,341.83 113.65,341.74 114.71,341.98 115.76,341.83 116.82,341.94 117.88,341.97 118.93,341.99 119.99,341.74 121.05,341.98 122.10,341.95 123.16,341.90 124.22,341.73 125.27,342.03 126.33,341.90 127.38,341.87 128.44,341.75 129.50,341.78 130.55,341.77 131.61,342.00 132.67,341.95 133.72,341.98 134.78,341.79 135.84,341.77 136.89,342.08 137.95,342.08 139.01,342.06 140.06,342.06 141.12,341.98 142.18,341.94 143.23,342.07 144.29,342.17 145.35,342.02 146.40,342.04 147.46,341.97 148.51,341.84 149.57,341.94 150.63,342.01 151.68,341.97 152.74,341.96 153.80,342.19 154.85,341.88 155.91,341.93 156.97,341.90 158.02,341.93 159.08,342.09 160.14,342.09 161.19,342.20 162.25,342.01 163.31,342.23 164.36,342.23 165.42,342.18 166.48,342.20 167.53,342.14 168.59,342.25 169.64,342.28 170.70,342.23 171.76,342.25 172.81,342.16 173.87,342.29 174.93,341.98 175.98,342.08 177.04,342.26 178.10,342.22 179.15,342.19 180.21,342.19" fill="none" stroke="#231f20" stroke-width="1.2" stroke-linejoin="round" stroke-dasharray="2.6,1.6,1.0,1.6"/>
<polyline points="32.30,342.60 32.68,342.60 33.06,342.60 33.43,342.60 33.81,342.60 34.19,342.60 34.57,342.60 34.95,342.60 35.32,342.60 35.70,342.60 36.08,342.60 36.46,342.60 36.84,342.60 37.21,342.60 37.59,342.60 37.97,342.60 38.35,342.60 38.73,342.60 39.10,342.60 39.48,342.60 39.86,342.60 40.24,339.00 40.62,330.90 40.99,322.80 41.37,314.70 41.75,306.61 42.13,298.51 42.51,290.41 42.88,282.31 43.26,274.21 43.64,266.11 44.02,258.01 44.40,249.92 44.77,250.01 45.15,252.44 45.53,254.88 45.91,257.31 46.29,259.75 46.66,262.31 47.04,265.32 47.42,268.33 47.80,271.34 48.18,274.35 48.55,277.36 48.93,280.33 49.31,282.93 49.69,285.54 50.07,288.14 50.44,290.75 50.82,293.35 51.20,295.95 51.58,298.56 51.96,300.41 52.33,301.33 52.71,302.24 53.09,303.16 53.47,304.17 54.39,306.19 55.32,306.99 56.24,309.29 57.16,310.59 58.09,311.55 59.01,313.29 59.94,313.55 60.86,314.12 61.78,314.45 62.71,316.53 63.63,316.70 64.56,317.54 65.48,316.49 66.40,317.13 67.33,318.85 68.25,317.32 69.18,317.65 70.10,318.57 71.02,318.93 71.95,320.15 72.87,320.73 73.80,320.06 74.72,321.65 75.64,322.04 76.57,322.58 77.49,323.65 78.42,323.24 79.34,323.71 80.26,323.32 81.19,324.40 82.11,324.58 83.04,325.04 83.96,324.84 84.88,325.39 85.81,325.88 86.73,324.56 87.66,324.69 88.58,325.15 89.50,325.57 90.43,326.52 91.35,326.84 92.28,326.88 93.20,327.48 94.12,326.22 95.05,327.12 95.97,326.37 96.90,327.45 97.82,326.68 98.74,327.31 99.67,329.42 100.59,329.41 101.52,328.39 102.44,329.98 103.36,329.67 104.29,331.57 105.21,332.96 106.22,333.03 109.79,326.68 112.02,333.03 114.41,331.38 117.14,332.02 120.08,333.03 123.02,334.14 125.96,335.33 129.32,336.53 132.26,328.43 134.78,341.22 136.88,328.43 138.98,341.59 141.08,337.72 144.44,338.18 148.22,339.29 150.74,338.55 152.84,338.83 155.36,340.30 157.46,342.32 160.19,331.93 162.50,342.32 165.44,335.33 167.96,342.32 170.90,341.50 173.42,342.14 177.20,340.76 179.30,341.86 181.82,342.05" fill="none" stroke="#000" stroke-width="1.15" stroke-linejoin="round"/>
<rect x="234.10" y="89.91" width="7.00" height="56.39" fill="#9b9b9b"/>
<rect x="247.10" y="75.70" width="7.00" height="70.60" fill="#9b9b9b"/>
<rect x="268.90" y="105.90" width="7.00" height="40.40" fill="#f4a0bd"/>
<rect x="281.80" y="108.12" width="7.00" height="38.18" fill="#f4a0bd"/>
<line x1="229.00" y1="31.80" x2="229.00" y2="146.90" stroke="#231f20" stroke-width="1.25"/>
<line x1="226.30" y1="146.30" x2="229.00" y2="146.30" stroke="#231f20" stroke-width="1.0"/>
<text x="223.00" y="148.60" font-size="6.4" text-anchor="end">0</text>
<line x1="226.30" y1="124.10" x2="229.00" y2="124.10" stroke="#231f20" stroke-width="1.0"/>
<text x="223.00" y="126.40" font-size="6.4" text-anchor="end">5</text>
<line x1="226.30" y1="101.90" x2="229.00" y2="101.90" stroke="#231f20" stroke-width="1.0"/>
<text x="223.00" y="104.20" font-size="6.4" text-anchor="end">10</text>
<line x1="226.30" y1="79.70" x2="229.00" y2="79.70" stroke="#231f20" stroke-width="1.0"/>
<text x="223.00" y="82.00" font-size="6.4" text-anchor="end">15</text>
<line x1="226.30" y1="57.50" x2="229.00" y2="57.50" stroke="#231f20" stroke-width="1.0"/>
<text x="223.00" y="59.80" font-size="6.4" text-anchor="end">20</text>
<line x1="226.30" y1="35.30" x2="229.00" y2="35.30" stroke="#231f20" stroke-width="1.0"/>
<text x="223.00" y="37.60" font-size="6.4" text-anchor="end">25</text>
<line x1="228.40" y1="146.30" x2="294.90" y2="146.30" stroke="#231f20" stroke-width="1.25"/>
<line x1="237.60" y1="146.30" x2="237.60" y2="149.00" stroke="#231f20" stroke-width="1.0"/>
<line x1="250.60" y1="146.30" x2="250.60" y2="149.00" stroke="#231f20" stroke-width="1.0"/>
<line x1="272.40" y1="146.30" x2="272.40" y2="149.00" stroke="#231f20" stroke-width="1.0"/>
<line x1="285.30" y1="146.30" x2="285.30" y2="149.00" stroke="#231f20" stroke-width="1.0"/>
<text x="226.10" y="158.10" font-size="6.3" text-anchor="end" font-style="italic" textLength="11.00" lengthAdjust="spacingAndGlyphs">F12</text>
<text x="236.60" y="158.40" font-size="6.3" text-anchor="middle" font-style="italic" textLength="10.40" lengthAdjust="spacingAndGlyphs">+/+</text>
<text x="251.50" y="158.40" font-size="6.3" text-anchor="middle" font-style="italic" textLength="9.40" lengthAdjust="spacingAndGlyphs">−/−</text>
<text x="271.60" y="158.40" font-size="6.3" text-anchor="middle" font-style="italic" textLength="10.40" lengthAdjust="spacingAndGlyphs">+/+</text>
<text x="286.20" y="158.40" font-size="6.3" text-anchor="middle" font-style="italic" textLength="9.40" lengthAdjust="spacingAndGlyphs">−/−</text>
<line x1="231.00" y1="163.10" x2="255.40" y2="163.10" stroke="#231f20" stroke-width="1.0"/>
<line x1="266.20" y1="163.10" x2="290.60" y2="163.10" stroke="#231f20" stroke-width="1.0"/>
<text x="243.40" y="172.00" font-size="6.7" text-anchor="middle" textLength="15.20" lengthAdjust="spacingAndGlyphs">Silica</text>
<text x="243.60" y="179.80" font-size="6.7" text-anchor="middle" textLength="23.40" lengthAdjust="spacingAndGlyphs">with CTI</text>
<text x="277.70" y="172.00" font-size="6.7" text-anchor="middle" textLength="29.60" lengthAdjust="spacingAndGlyphs">0.05pM TF</text>
<text x="277.90" y="179.80" font-size="6.7" text-anchor="middle" textLength="23.40" lengthAdjust="spacingAndGlyphs">with CTI</text>
<text x="210.10" y="90.40" font-size="8.3" text-anchor="middle" style="stroke-width:0.12px" textLength="49.30" lengthAdjust="spacingAndGlyphs" transform="rotate(-90 210.10 90.40)">Lag time (minute)</text>
<circle cx="237.50" cy="80.60" r="1.55" fill="#000"/>
<circle cx="234.70" cy="84.60" r="1.55" fill="#000"/>
<circle cx="234.40" cy="88.10" r="1.55" fill="#000"/>
<circle cx="240.70" cy="86.80" r="1.55" fill="#000"/>
<circle cx="237.90" cy="91.00" r="1.55" fill="#000"/>
<circle cx="237.50" cy="97.30" r="1.55" fill="#000"/>
<circle cx="250.40" cy="57.10" r="1.45" fill="#fff" stroke="#231f20" stroke-width="1.1"/>
<circle cx="250.40" cy="70.60" r="1.45" fill="#fff" stroke="#231f20" stroke-width="1.1"/>
<circle cx="250.40" cy="75.40" r="1.45" fill="#fff" stroke="#231f20" stroke-width="1.1"/>
<circle cx="250.40" cy="86.80" r="1.45" fill="#fff" stroke="#231f20" stroke-width="1.1"/>
<circle cx="250.40" cy="95.20" r="1.45" fill="#fff" stroke="#231f20" stroke-width="1.1"/>
<circle cx="272.20" cy="94.90" r="1.55" fill="#bd1252"/>
<circle cx="272.20" cy="98.90" r="1.55" fill="#bd1252"/>
<circle cx="269.00" cy="105.20" r="1.55" fill="#bd1252"/>
<circle cx="275.20" cy="104.10" r="1.55" fill="#bd1252"/>
<circle cx="272.50" cy="108.90" r="1.55" fill="#bd1252"/>
<circle cx="272.20" cy="114.40" r="1.55" fill="#bd1252"/>
<circle cx="282.00" cy="105.20" r="1.45" fill="#fff" stroke="#bd1252" stroke-width="1.1"/>
<circle cx="288.10" cy="103.00" r="1.45" fill="#fff" stroke="#bd1252" stroke-width="1.1"/>
<circle cx="284.90" cy="107.60" r="1.45" fill="#fff" stroke="#bd1252" stroke-width="1.1"/>
<circle cx="288.10" cy="107.60" r="1.45" fill="#fff" stroke="#bd1252" stroke-width="1.1"/>
<circle cx="282.00" cy="110.20" r="1.45" fill="#fff" stroke="#bd1252" stroke-width="1.1"/>
<rect x="344.95" y="80.26" width="7.00" height="66.05" fill="#9b9b9b"/>
<rect x="357.95" y="122.32" width="7.00" height="23.98" fill="#9b9b9b"/>
<rect x="379.75" y="98.68" width="7.00" height="47.62" fill="#f4a0bd"/>
<rect x="392.65" y="97.13" width="7.00" height="49.17" fill="#f4a0bd"/>
<line x1="339.85" y1="31.80" x2="339.85" y2="146.90" stroke="#231f20" stroke-width="1.25"/>
<line x1="337.15" y1="146.30" x2="339.85" y2="146.30" stroke="#231f20" stroke-width="1.0"/>
<text x="333.85" y="148.60" font-size="6.4" text-anchor="end">0</text>
<line x1="337.15" y1="124.10" x2="339.85" y2="124.10" stroke="#231f20" stroke-width="1.0"/>
<text x="333.85" y="126.40" font-size="6.4" text-anchor="end">20</text>
<line x1="337.15" y1="101.90" x2="339.85" y2="101.90" stroke="#231f20" stroke-width="1.0"/>
<text x="333.85" y="104.20" font-size="6.4" text-anchor="end">40</text>
<line x1="337.15" y1="79.70" x2="339.85" y2="79.70" stroke="#231f20" stroke-width="1.0"/>
<text x="333.85" y="82.00" font-size="6.4" text-anchor="end">60</text>
<line x1="337.15" y1="57.50" x2="339.85" y2="57.50" stroke="#231f20" stroke-width="1.0"/>
<text x="333.85" y="59.80" font-size="6.4" text-anchor="end">80</text>
<line x1="337.15" y1="35.30" x2="339.85" y2="35.30" stroke="#231f20" stroke-width="1.0"/>
<text x="333.85" y="37.60" font-size="6.4" text-anchor="end">100</text>
<line x1="339.25" y1="146.30" x2="405.75" y2="146.30" stroke="#231f20" stroke-width="1.25"/>
<line x1="348.45" y1="146.30" x2="348.45" y2="149.00" stroke="#231f20" stroke-width="1.0"/>
<line x1="361.45" y1="146.30" x2="361.45" y2="149.00" stroke="#231f20" stroke-width="1.0"/>
<line x1="383.25" y1="146.30" x2="383.25" y2="149.00" stroke="#231f20" stroke-width="1.0"/>
<line x1="396.15" y1="146.30" x2="396.15" y2="149.00" stroke="#231f20" stroke-width="1.0"/>
<text x="336.95" y="158.10" font-size="6.3" text-anchor="end" font-style="italic" textLength="11.00" lengthAdjust="spacingAndGlyphs">F12</text>
<text x="347.45" y="158.40" font-size="6.3" text-anchor="middle" font-style="italic" textLength="10.40" lengthAdjust="spacingAndGlyphs">+/+</text>
<text x="362.35" y="158.40" font-size="6.3" text-anchor="middle" font-style="italic" textLength="9.40" lengthAdjust="spacingAndGlyphs">−/−</text>
<text x="382.45" y="158.40" font-size="6.3" text-anchor="middle" font-style="italic" textLength="10.40" lengthAdjust="spacingAndGlyphs">+/+</text>
<text x="397.05" y="158.40" font-size="6.3" text-anchor="middle" font-style="italic" textLength="9.40" lengthAdjust="spacingAndGlyphs">−/−</text>
<line x1="341.85" y1="163.10" x2="366.25" y2="163.10" stroke="#231f20" stroke-width="1.0"/>
<line x1="377.05" y1="163.10" x2="401.45" y2="163.10" stroke="#231f20" stroke-width="1.0"/>
<text x="354.25" y="172.00" font-size="6.7" text-anchor="middle" textLength="15.20" lengthAdjust="spacingAndGlyphs">Silica</text>
<text x="354.45" y="179.80" font-size="6.7" text-anchor="middle" textLength="23.40" lengthAdjust="spacingAndGlyphs">with CTI</text>
<text x="388.55" y="172.00" font-size="6.7" text-anchor="middle" textLength="29.60" lengthAdjust="spacingAndGlyphs">0.05pM TF</text>
<text x="388.75" y="179.80" font-size="6.7" text-anchor="middle" textLength="23.40" lengthAdjust="spacingAndGlyphs">with CTI</text>
<text x="316.30" y="90.50" font-size="8.3" text-anchor="middle" style="stroke-width:0.12px" textLength="71.20" lengthAdjust="spacingAndGlyphs" transform="rotate(-90 316.30 90.50)">Peak height (nM thrombin)</text>
<polyline points="349.00,45.70 349.00,42.40 364.60,42.40 364.60,45.70" fill="none" stroke="#231f20" stroke-width="1.1"/>
<text x="356.80" y="42.30" font-size="6.0" text-anchor="middle">**</text>
<circle cx="348.70" cy="54.60" r="1.55" fill="#000"/>
<circle cx="348.70" cy="64.40" r="1.55" fill="#000"/>
<circle cx="345.90" cy="78.90" r="1.55" fill="#000"/>
<circle cx="348.70" cy="80.80" r="1.55" fill="#000"/>
<circle cx="351.40" cy="80.00" r="1.55" fill="#000"/>
<circle cx="348.50" cy="94.20" r="1.55" fill="#000"/>
<circle cx="358.80" cy="105.20" r="1.45" fill="#fff" stroke="#231f20" stroke-width="1.1"/>
<circle cx="364.40" cy="106.70" r="1.45" fill="#fff" stroke="#231f20" stroke-width="1.1"/>
<circle cx="361.80" cy="121.60" r="1.45" fill="#fff" stroke="#231f20" stroke-width="1.1"/>
<circle cx="358.80" cy="129.60" r="1.45" fill="#fff" stroke="#231f20" stroke-width="1.1"/>
<circle cx="364.40" cy="128.60" r="1.45" fill="#fff" stroke="#231f20" stroke-width="1.1"/>
<circle cx="383.20" cy="72.00" r="1.4" fill="#bd1252"/>
<circle cx="383.20" cy="85.90" r="1.4" fill="#bd1252"/>
<circle cx="379.60" cy="98.40" r="1.4" fill="#bd1252"/>
<circle cx="386.20" cy="98.40" r="1.4" fill="#bd1252"/>
<circle cx="383.20" cy="101.20" r="1.4" fill="#bd1252"/>
<circle cx="383.20" cy="104.80" r="1.4" fill="#bd1252"/>
<circle cx="392.90" cy="94.20" r="1.45" fill="#fff" stroke="#bd1252" stroke-width="1.1"/>
<circle cx="398.50" cy="93.30" r="1.45" fill="#fff" stroke="#bd1252" stroke-width="1.1"/>
<circle cx="396.50" cy="95.80" r="1.45" fill="#fff" stroke="#bd1252" stroke-width="1.1"/>
<circle cx="398.50" cy="96.50" r="1.45" fill="#fff" stroke="#bd1252" stroke-width="1.1"/>
<circle cx="396.10" cy="111.70" r="1.45" fill="#fff" stroke="#bd1252" stroke-width="1.1"/>
<rect x="459.60" y="76.00" width="7.00" height="70.30" fill="#9b9b9b"/>
<rect x="472.60" y="100.33" width="7.00" height="45.97" fill="#9b9b9b"/>
<rect x="494.40" y="78.59" width="7.00" height="67.71" fill="#f4a0bd"/>
<rect x="507.30" y="78.59" width="7.00" height="67.71" fill="#f4a0bd"/>
<line x1="454.50" y1="31.80" x2="454.50" y2="146.90" stroke="#231f20" stroke-width="1.25"/>
<line x1="451.80" y1="146.30" x2="454.50" y2="146.30" stroke="#231f20" stroke-width="1.0"/>
<text x="448.50" y="148.60" font-size="6.4" text-anchor="end">0</text>
<line x1="451.80" y1="127.80" x2="454.50" y2="127.80" stroke="#231f20" stroke-width="1.0"/>
<text x="448.50" y="130.10" font-size="6.4" text-anchor="end">200</text>
<line x1="451.80" y1="109.30" x2="454.50" y2="109.30" stroke="#231f20" stroke-width="1.0"/>
<text x="448.50" y="111.60" font-size="6.4" text-anchor="end">400</text>
<line x1="451.80" y1="90.80" x2="454.50" y2="90.80" stroke="#231f20" stroke-width="1.0"/>
<text x="448.50" y="93.10" font-size="6.4" text-anchor="end">600</text>
<line x1="451.80" y1="72.30" x2="454.50" y2="72.30" stroke="#231f20" stroke-width="1.0"/>
<text x="448.50" y="74.60" font-size="6.4" text-anchor="end">800</text>
<line x1="451.80" y1="53.80" x2="454.50" y2="53.80" stroke="#231f20" stroke-width="1.0"/>
<text x="448.50" y="56.10" font-size="6.4" text-anchor="end">1000</text>
<line x1="451.80" y1="35.30" x2="454.50" y2="35.30" stroke="#231f20" stroke-width="1.0"/>
<text x="448.50" y="37.60" font-size="6.4" text-anchor="end">1200</text>
<line x1="453.90" y1="146.30" x2="520.40" y2="146.30" stroke="#231f20" stroke-width="1.25"/>
<line x1="463.10" y1="146.30" x2="463.10" y2="149.00" stroke="#231f20" stroke-width="1.0"/>
<line x1="476.10" y1="146.30" x2="476.10" y2="149.00" stroke="#231f20" stroke-width="1.0"/>
<line x1="497.90" y1="146.30" x2="497.90" y2="149.00" stroke="#231f20" stroke-width="1.0"/>
<line x1="510.80" y1="146.30" x2="510.80" y2="149.00" stroke="#231f20" stroke-width="1.0"/>
<text x="451.60" y="158.10" font-size="6.3" text-anchor="end" font-style="italic" textLength="11.00" lengthAdjust="spacingAndGlyphs">F12</text>
<text x="462.10" y="158.40" font-size="6.3" text-anchor="middle" font-style="italic" textLength="10.40" lengthAdjust="spacingAndGlyphs">+/+</text>
<text x="477.00" y="158.40" font-size="6.3" text-anchor="middle" font-style="italic" textLength="9.40" lengthAdjust="spacingAndGlyphs">−/−</text>
<text x="497.10" y="158.40" font-size="6.3" text-anchor="middle" font-style="italic" textLength="10.40" lengthAdjust="spacingAndGlyphs">+/+</text>
<text x="511.70" y="158.40" font-size="6.3" text-anchor="middle" font-style="italic" textLength="9.40" lengthAdjust="spacingAndGlyphs">−/−</text>
<line x1="456.50" y1="163.10" x2="480.90" y2="163.10" stroke="#231f20" stroke-width="1.0"/>
<line x1="491.70" y1="163.10" x2="516.10" y2="163.10" stroke="#231f20" stroke-width="1.0"/>
<text x="468.90" y="172.00" font-size="6.7" text-anchor="middle" textLength="15.20" lengthAdjust="spacingAndGlyphs">Silica</text>
<text x="469.10" y="179.80" font-size="6.7" text-anchor="middle" textLength="23.40" lengthAdjust="spacingAndGlyphs">with CTI</text>
<text x="503.20" y="172.00" font-size="6.7" text-anchor="middle" textLength="29.60" lengthAdjust="spacingAndGlyphs">0.05pM TF</text>
<text x="503.40" y="179.80" font-size="6.7" text-anchor="middle" textLength="23.40" lengthAdjust="spacingAndGlyphs">with CTI</text>
<text x="427.60" y="90.90" font-size="8.3" text-anchor="middle" style="stroke-width:0.12px" textLength="46.40" lengthAdjust="spacingAndGlyphs" transform="rotate(-90 427.60 90.90)">ETP (nM*minute)</text>
<polyline points="463.00,43.50 463.00,40.20 478.30,40.20 478.30,43.50" fill="none" stroke="#231f20" stroke-width="1.1"/>
<text x="470.65" y="40.10" font-size="6.0" text-anchor="middle">**</text>
<circle cx="459.60" cy="69.80" r="1.55" fill="#000"/>
<circle cx="466.70" cy="69.80" r="1.55" fill="#000"/>
<circle cx="463.30" cy="72.60" r="1.55" fill="#000"/>
<circle cx="463.30" cy="78.50" r="1.55" fill="#000"/>
<circle cx="463.30" cy="82.20" r="1.55" fill="#000"/>
<circle cx="463.30" cy="85.60" r="1.55" fill="#000"/>
<circle cx="473.10" cy="85.60" r="1.45" fill="#fff" stroke="#231f20" stroke-width="1.1"/>
<circle cx="479.10" cy="88.00" r="1.45" fill="#fff" stroke="#231f20" stroke-width="1.1"/>
<circle cx="475.60" cy="100.00" r="1.45" fill="#fff" stroke="#231f20" stroke-width="1.1"/>
<circle cx="475.60" cy="112.50" r="1.45" fill="#fff" stroke="#231f20" stroke-width="1.1"/>
<circle cx="475.60" cy="121.00" r="1.45" fill="#fff" stroke="#231f20" stroke-width="1.1"/>
<circle cx="497.70" cy="72.30" r="1.4" fill="#bd1252"/>
<circle cx="494.80" cy="77.00" r="1.4" fill="#bd1252"/>
<circle cx="497.70" cy="76.40" r="1.4" fill="#bd1252"/>
<circle cx="500.70" cy="78.20" r="1.4" fill="#bd1252"/>
<circle cx="496.00" cy="90.50" r="1.4" fill="#bd1252"/>
<circle cx="498.90" cy="88.90" r="1.4" fill="#bd1252"/>
<circle cx="510.70" cy="61.10" r="1.45" fill="#fff" stroke="#bd1252" stroke-width="1.1"/>
<circle cx="510.70" cy="74.40" r="1.45" fill="#fff" stroke="#bd1252" stroke-width="1.1"/>
<circle cx="510.70" cy="78.50" r="1.45" fill="#fff" stroke="#bd1252" stroke-width="1.1"/>
<circle cx="510.70" cy="93.90" r="1.45" fill="#fff" stroke="#bd1252" stroke-width="1.1"/>
<circle cx="510.70" cy="97.60" r="1.45" fill="#fff" stroke="#bd1252" stroke-width="1.1"/>
<rect x="233.90" y="330.49" width="7.00" height="12.41" fill="#9b9b9b"/>
<rect x="246.90" y="269.90" width="7.00" height="73.00" fill="#9b9b9b"/>
<rect x="246.90" y="236.30" width="7.00" height="26.90" fill="#9b9b9b"/>
<rect x="268.70" y="308.60" width="7.00" height="34.30" fill="#f4a0bd"/>
<rect x="281.60" y="306.60" width="7.00" height="36.30" fill="#f4a0bd"/>
<line x1="228.80" y1="228.60" x2="228.80" y2="263.30" stroke="#231f20" stroke-width="1.25"/>
<line x1="226.60" y1="263.30" x2="231.00" y2="263.30" stroke="#231f20" stroke-width="1.0"/>
<line x1="228.80" y1="269.60" x2="228.80" y2="343.50" stroke="#231f20" stroke-width="1.25"/>
<line x1="226.60" y1="269.60" x2="231.00" y2="269.60" stroke="#231f20" stroke-width="1.0"/>
<line x1="226.10" y1="258.30" x2="228.80" y2="258.30" stroke="#231f20" stroke-width="1.0"/>
<text x="222.80" y="260.60" font-size="6.4" text-anchor="end">40</text>
<line x1="226.10" y1="249.44" x2="228.80" y2="249.44" stroke="#231f20" stroke-width="1.0"/>
<text x="222.80" y="251.74" font-size="6.4" text-anchor="end">60</text>
<line x1="226.10" y1="240.58" x2="228.80" y2="240.58" stroke="#231f20" stroke-width="1.0"/>
<text x="222.80" y="242.88" font-size="6.4" text-anchor="end">80</text>
<line x1="226.10" y1="231.72" x2="228.80" y2="231.72" stroke="#231f20" stroke-width="1.0"/>
<text x="222.80" y="234.02" font-size="6.4" text-anchor="end">100</text>
<line x1="226.10" y1="342.90" x2="228.80" y2="342.90" stroke="#231f20" stroke-width="1.0"/>
<text x="222.80" y="345.20" font-size="6.4" text-anchor="end">0</text>
<line x1="226.10" y1="328.30" x2="228.80" y2="328.30" stroke="#231f20" stroke-width="1.0"/>
<text x="222.80" y="330.60" font-size="6.4" text-anchor="end">2</text>
<line x1="226.10" y1="313.70" x2="228.80" y2="313.70" stroke="#231f20" stroke-width="1.0"/>
<text x="222.80" y="316.00" font-size="6.4" text-anchor="end">4</text>
<line x1="226.10" y1="299.10" x2="228.80" y2="299.10" stroke="#231f20" stroke-width="1.0"/>
<text x="222.80" y="301.40" font-size="6.4" text-anchor="end">6</text>
<line x1="226.10" y1="284.50" x2="228.80" y2="284.50" stroke="#231f20" stroke-width="1.0"/>
<text x="222.80" y="286.80" font-size="6.4" text-anchor="end">8</text>
<line x1="226.10" y1="269.90" x2="228.80" y2="269.90" stroke="#231f20" stroke-width="1.0"/>
<text x="222.80" y="272.20" font-size="6.4" text-anchor="end">10</text>
<line x1="228.20" y1="342.90" x2="294.70" y2="342.90" stroke="#231f20" stroke-width="1.25"/>
<line x1="237.40" y1="342.90" x2="237.40" y2="345.60" stroke="#231f20" stroke-width="1.0"/>
<line x1="250.40" y1="342.90" x2="250.40" y2="345.60" stroke="#231f20" stroke-width="1.0"/>
<line x1="272.20" y1="342.90" x2="272.20" y2="345.60" stroke="#231f20" stroke-width="1.0"/>
<line x1="285.10" y1="342.90" x2="285.10" y2="345.60" stroke="#231f20" stroke-width="1.0"/>
<text x="225.90" y="354.70" font-size="6.3" text-anchor="end" font-style="italic" textLength="11.00" lengthAdjust="spacingAndGlyphs">F12</text>
<text x="236.40" y="355.00" font-size="6.3" text-anchor="middle" font-style="italic" textLength="10.40" lengthAdjust="spacingAndGlyphs">+/+</text>
<text x="251.30" y="355.00" font-size="6.3" text-anchor="middle" font-style="italic" textLength="9.40" lengthAdjust="spacingAndGlyphs">−/−</text>
<text x="271.40" y="355.00" font-size="6.3" text-anchor="middle" font-style="italic" textLength="10.40" lengthAdjust="spacingAndGlyphs">+/+</text>
<text x="286.00" y="355.00" font-size="6.3" text-anchor="middle" font-style="italic" textLength="9.40" lengthAdjust="spacingAndGlyphs">−/−</text>
<line x1="230.80" y1="359.70" x2="255.20" y2="359.70" stroke="#231f20" stroke-width="1.0"/>
<line x1="266.00" y1="359.70" x2="290.40" y2="359.70" stroke="#231f20" stroke-width="1.0"/>
<text x="243.20" y="368.60" font-size="6.7" text-anchor="middle" textLength="15.20" lengthAdjust="spacingAndGlyphs">Silica</text>
<text x="243.40" y="376.40" font-size="6.7" text-anchor="middle" textLength="23.40" lengthAdjust="spacingAndGlyphs">with CTI</text>
<text x="277.50" y="368.60" font-size="6.7" text-anchor="middle" textLength="29.60" lengthAdjust="spacingAndGlyphs">0.05pM TF</text>
<text x="277.70" y="376.40" font-size="6.7" text-anchor="middle" textLength="23.40" lengthAdjust="spacingAndGlyphs">with CTI</text>
<text x="205.90" y="287.30" font-size="8.3" text-anchor="middle" style="stroke-width:0.12px" textLength="48.80" lengthAdjust="spacingAndGlyphs" transform="rotate(-90 205.90 287.30)">Lag time (minute)</text>
<polyline points="235.70,231.80 235.70,228.50 250.20,228.50 250.20,231.80" fill="none" stroke="#231f20" stroke-width="1.1"/>
<text x="242.95" y="228.40" font-size="6.0" text-anchor="middle">**</text>
<circle cx="234.90" cy="330.10" r="1.55" fill="#000"/>
<circle cx="236.80" cy="330.10" r="1.55" fill="#000"/>
<circle cx="238.60" cy="330.10" r="1.55" fill="#000"/>
<circle cx="240.50" cy="330.10" r="1.55" fill="#000"/>
<circle cx="236.60" cy="328.90" r="1.55" fill="#000"/>
<circle cx="239.60" cy="328.90" r="1.55" fill="#000"/>
<circle cx="250.80" cy="325.80" r="1.45" fill="#fff" stroke="#231f20" stroke-width="1.1"/>
<circle cx="248.20" cy="236.30" r="1.45" fill="#fff" stroke="#231f20" stroke-width="1.1"/>
<circle cx="250.50" cy="236.30" r="1.45" fill="#fff" stroke="#231f20" stroke-width="1.1"/>
<circle cx="252.90" cy="236.30" r="1.45" fill="#fff" stroke="#231f20" stroke-width="1.1"/>
<circle cx="269.00" cy="306.30" r="1.4" fill="#bd1252"/>
<circle cx="273.00" cy="306.30" r="1.4" fill="#bd1252"/>
<circle cx="270.80" cy="308.60" r="1.4" fill="#bd1252"/>
<circle cx="274.80" cy="309.30" r="1.4" fill="#bd1252"/>
<circle cx="269.00" cy="310.60" r="1.4" fill="#bd1252"/>
<circle cx="272.50" cy="311.30" r="1.4" fill="#bd1252"/>
<circle cx="282.00" cy="296.90" r="1.45" fill="#fff" stroke="#bd1252" stroke-width="1.1"/>
<circle cx="287.80" cy="296.90" r="1.45" fill="#fff" stroke="#bd1252" stroke-width="1.1"/>
<circle cx="281.80" cy="304.00" r="1.45" fill="#fff" stroke="#bd1252" stroke-width="1.1"/>
<circle cx="287.60" cy="306.80" r="1.45" fill="#fff" stroke="#bd1252" stroke-width="1.1"/>
<circle cx="284.80" cy="310.90" r="1.45" fill="#fff" stroke="#bd1252" stroke-width="1.1"/>
<rect x="345.00" y="240.90" width="7.00" height="53.20" fill="#9b9b9b"/>
<rect x="345.00" y="301.50" width="7.00" height="41.40" fill="#9b9b9b"/>
<rect x="379.80" y="333.58" width="7.00" height="9.31" fill="#f4a0bd"/>
<rect x="392.70" y="333.58" width="7.00" height="9.31" fill="#f4a0bd"/>
<line x1="339.90" y1="228.60" x2="339.90" y2="294.10" stroke="#231f20" stroke-width="1.25"/>
<line x1="337.70" y1="294.10" x2="342.10" y2="294.10" stroke="#231f20" stroke-width="1.0"/>
<line x1="339.90" y1="301.50" x2="339.90" y2="343.50" stroke="#231f20" stroke-width="1.25"/>
<line x1="337.70" y1="301.50" x2="342.10" y2="301.50" stroke="#231f20" stroke-width="1.0"/>
<line x1="337.20" y1="294.10" x2="339.90" y2="294.10" stroke="#231f20" stroke-width="1.0"/>
<text x="333.90" y="296.40" font-size="6.4" text-anchor="end">20</text>
<line x1="337.20" y1="278.35" x2="339.90" y2="278.35" stroke="#231f20" stroke-width="1.0"/>
<text x="333.90" y="280.65" font-size="6.4" text-anchor="end">40</text>
<line x1="337.20" y1="262.60" x2="339.90" y2="262.60" stroke="#231f20" stroke-width="1.0"/>
<text x="333.90" y="264.90" font-size="6.4" text-anchor="end">60</text>
<line x1="337.20" y1="246.85" x2="339.90" y2="246.85" stroke="#231f20" stroke-width="1.0"/>
<text x="333.90" y="249.15" font-size="6.4" text-anchor="end">80</text>
<line x1="337.20" y1="231.10" x2="339.90" y2="231.10" stroke="#231f20" stroke-width="1.0"/>
<text x="333.90" y="233.40" font-size="6.4" text-anchor="end">100</text>
<line x1="337.20" y1="342.90" x2="339.90" y2="342.90" stroke="#231f20" stroke-width="1.0"/>
<text x="333.90" y="345.20" font-size="6.4" text-anchor="end">0</text>
<line x1="337.20" y1="322.20" x2="339.90" y2="322.20" stroke="#231f20" stroke-width="1.0"/>
<text x="333.90" y="324.50" font-size="6.4" text-anchor="end">10</text>
<line x1="337.20" y1="301.50" x2="339.90" y2="301.50" stroke="#231f20" stroke-width="1.0"/>
<text x="333.90" y="303.80" font-size="6.4" text-anchor="end">20</text>
<line x1="339.30" y1="342.90" x2="405.80" y2="342.90" stroke="#231f20" stroke-width="1.25"/>
<line x1="348.50" y1="342.90" x2="348.50" y2="345.60" stroke="#231f20" stroke-width="1.0"/>
<line x1="361.50" y1="342.90" x2="361.50" y2="345.60" stroke="#231f20" stroke-width="1.0"/>
<line x1="383.30" y1="342.90" x2="383.30" y2="345.60" stroke="#231f20" stroke-width="1.0"/>
<line x1="396.20" y1="342.90" x2="396.20" y2="345.60" stroke="#231f20" stroke-width="1.0"/>
<text x="337.00" y="354.70" font-size="6.3" text-anchor="end" font-style="italic" textLength="11.00" lengthAdjust="spacingAndGlyphs">F12</text>
<text x="347.50" y="355.00" font-size="6.3" text-anchor="middle" font-style="italic" textLength="10.40" lengthAdjust="spacingAndGlyphs">+/+</text>
<text x="362.40" y="355.00" font-size="6.3" text-anchor="middle" font-style="italic" textLength="9.40" lengthAdjust="spacingAndGlyphs">−/−</text>
<text x="382.50" y="355.00" font-size="6.3" text-anchor="middle" font-style="italic" textLength="10.40" lengthAdjust="spacingAndGlyphs">+/+</text>
<text x="397.10" y="355.00" font-size="6.3" text-anchor="middle" font-style="italic" textLength="9.40" lengthAdjust="spacingAndGlyphs">−/−</text>
<line x1="341.90" y1="359.70" x2="366.30" y2="359.70" stroke="#231f20" stroke-width="1.0"/>
<line x1="377.10" y1="359.70" x2="401.50" y2="359.70" stroke="#231f20" stroke-width="1.0"/>
<text x="354.30" y="368.60" font-size="6.7" text-anchor="middle" textLength="15.20" lengthAdjust="spacingAndGlyphs">Silica</text>
<text x="354.50" y="376.40" font-size="6.7" text-anchor="middle" textLength="23.40" lengthAdjust="spacingAndGlyphs">with CTI</text>
<text x="388.60" y="368.60" font-size="6.7" text-anchor="middle" textLength="29.60" lengthAdjust="spacingAndGlyphs">0.05pM TF</text>
<text x="388.80" y="376.40" font-size="6.7" text-anchor="middle" textLength="23.40" lengthAdjust="spacingAndGlyphs">with CTI</text>
<text x="316.30" y="287.40" font-size="8.3" text-anchor="middle" style="stroke-width:0.12px" textLength="71.20" lengthAdjust="spacingAndGlyphs" transform="rotate(-90 316.30 287.40)">Peak height (nM thrombin)</text>
<polyline points="347.80,231.60 347.80,228.30 363.30,228.30 363.30,231.60" fill="none" stroke="#231f20" stroke-width="1.1"/>
<text x="355.55" y="228.20" font-size="6.0" text-anchor="middle">**</text>
<circle cx="345.90" cy="233.90" r="1.55" fill="#000"/>
<circle cx="348.50" cy="235.70" r="1.55" fill="#000"/>
<circle cx="351.50" cy="234.40" r="1.55" fill="#000"/>
<circle cx="345.90" cy="240.60" r="1.55" fill="#000"/>
<circle cx="348.70" cy="240.90" r="1.55" fill="#000"/>
<circle cx="351.50" cy="240.60" r="1.55" fill="#000"/>
<circle cx="359.40" cy="340.00" r="1.45" fill="#fff" stroke="#231f20" stroke-width="1.1"/>
<circle cx="357.80" cy="342.00" r="1.45" fill="#fff" stroke="#231f20" stroke-width="1.1"/>
<circle cx="361.00" cy="342.00" r="1.45" fill="#fff" stroke="#231f20" stroke-width="1.1"/>
<circle cx="363.70" cy="342.00" r="1.45" fill="#fff" stroke="#231f20" stroke-width="1.1"/>
<circle cx="379.90" cy="331.80" r="1.45" fill="#bd1252"/>
<circle cx="385.60" cy="332.20" r="1.45" fill="#bd1252"/>
<circle cx="382.80" cy="333.70" r="1.45" fill="#bd1252"/>
<circle cx="382.00" cy="335.80" r="1.45" fill="#bd1252"/>
<circle cx="392.30" cy="331.50" r="1.45" fill="#fff" stroke="#bd1252" stroke-width="1.1"/>
<circle cx="395.50" cy="331.20" r="1.45" fill="#fff" stroke="#bd1252" stroke-width="1.1"/>
<circle cx="398.60" cy="333.40" r="1.45" fill="#fff" stroke="#bd1252" stroke-width="1.1"/>
<circle cx="393.90" cy="336.90" r="1.45" fill="#fff" stroke="#bd1252" stroke-width="1.1"/>
<circle cx="397.10" cy="336.90" r="1.45" fill="#fff" stroke="#bd1252" stroke-width="1.1"/>
<rect x="459.40" y="271.75" width="7.00" height="23.25" fill="#9b9b9b"/>
<rect x="459.40" y="302.00" width="7.00" height="40.90" fill="#9b9b9b"/>
<rect x="494.20" y="332.40" width="7.00" height="10.50" fill="#f4a0bd"/>
<rect x="507.10" y="331.60" width="7.00" height="11.30" fill="#f4a0bd"/>
<line x1="454.30" y1="228.60" x2="454.30" y2="295.00" stroke="#231f20" stroke-width="1.25"/>
<line x1="452.10" y1="295.00" x2="456.50" y2="295.00" stroke="#231f20" stroke-width="1.0"/>
<line x1="454.30" y1="302.00" x2="454.30" y2="343.50" stroke="#231f20" stroke-width="1.25"/>
<line x1="452.10" y1="302.00" x2="456.50" y2="302.00" stroke="#231f20" stroke-width="1.0"/>
<line x1="451.60" y1="294.86" x2="454.30" y2="294.86" stroke="#231f20" stroke-width="1.0"/>
<text x="448.30" y="297.16" font-size="6.4" text-anchor="end">200</text>
<line x1="451.60" y1="278.92" x2="454.30" y2="278.92" stroke="#231f20" stroke-width="1.0"/>
<text x="448.30" y="281.22" font-size="6.4" text-anchor="end">400</text>
<line x1="451.60" y1="262.98" x2="454.30" y2="262.98" stroke="#231f20" stroke-width="1.0"/>
<text x="448.30" y="265.28" font-size="6.4" text-anchor="end">600</text>
<line x1="451.60" y1="247.04" x2="454.30" y2="247.04" stroke="#231f20" stroke-width="1.0"/>
<text x="448.30" y="249.34" font-size="6.4" text-anchor="end">800</text>
<line x1="451.60" y1="231.10" x2="454.30" y2="231.10" stroke="#231f20" stroke-width="1.0"/>
<text x="448.30" y="233.40" font-size="6.4" text-anchor="end">1000</text>
<line x1="451.60" y1="342.90" x2="454.30" y2="342.90" stroke="#231f20" stroke-width="1.0"/>
<text x="448.30" y="345.20" font-size="6.4" text-anchor="end">0</text>
<line x1="451.60" y1="322.90" x2="454.30" y2="322.90" stroke="#231f20" stroke-width="1.0"/>
<text x="448.30" y="325.20" font-size="6.4" text-anchor="end">100</text>
<line x1="451.60" y1="302.90" x2="454.30" y2="302.90" stroke="#231f20" stroke-width="1.0"/>
<text x="448.30" y="305.20" font-size="6.4" text-anchor="end">200</text>
<line x1="453.70" y1="342.90" x2="520.20" y2="342.90" stroke="#231f20" stroke-width="1.25"/>
<line x1="462.90" y1="342.90" x2="462.90" y2="345.60" stroke="#231f20" stroke-width="1.0"/>
<line x1="475.90" y1="342.90" x2="475.90" y2="345.60" stroke="#231f20" stroke-width="1.0"/>
<line x1="497.70" y1="342.90" x2="497.70" y2="345.60" stroke="#231f20" stroke-width="1.0"/>
<line x1="510.60" y1="342.90" x2="510.60" y2="345.60" stroke="#231f20" stroke-width="1.0"/>
<text x="451.40" y="354.70" font-size="6.3" text-anchor="end" font-style="italic" textLength="11.00" lengthAdjust="spacingAndGlyphs">F12</text>
<text x="461.90" y="355.00" font-size="6.3" text-anchor="middle" font-style="italic" textLength="10.40" lengthAdjust="spacingAndGlyphs">+/+</text>
<text x="476.80" y="355.00" font-size="6.3" text-anchor="middle" font-style="italic" textLength="9.40" lengthAdjust="spacingAndGlyphs">−/−</text>
<text x="496.90" y="355.00" font-size="6.3" text-anchor="middle" font-style="italic" textLength="10.40" lengthAdjust="spacingAndGlyphs">+/+</text>
<text x="511.50" y="355.00" font-size="6.3" text-anchor="middle" font-style="italic" textLength="9.40" lengthAdjust="spacingAndGlyphs">−/−</text>
<line x1="456.30" y1="359.70" x2="480.70" y2="359.70" stroke="#231f20" stroke-width="1.0"/>
<line x1="491.50" y1="359.70" x2="515.90" y2="359.70" stroke="#231f20" stroke-width="1.0"/>
<text x="468.70" y="368.60" font-size="6.7" text-anchor="middle" textLength="15.20" lengthAdjust="spacingAndGlyphs">Silica</text>
<text x="468.90" y="376.40" font-size="6.7" text-anchor="middle" textLength="23.40" lengthAdjust="spacingAndGlyphs">with CTI</text>
<text x="503.00" y="368.60" font-size="6.7" text-anchor="middle" textLength="29.60" lengthAdjust="spacingAndGlyphs">0.05pM TF</text>
<text x="503.20" y="376.40" font-size="6.7" text-anchor="middle" textLength="23.40" lengthAdjust="spacingAndGlyphs">with CTI</text>
<text x="427.40" y="287.00" font-size="8.3" text-anchor="middle" style="stroke-width:0.12px" textLength="46.30" lengthAdjust="spacingAndGlyphs" transform="rotate(-90 427.40 287.00)">ETP (nM*minute)</text>
<polyline points="462.90,249.10 462.90,245.80 478.40,245.80 478.40,249.10" fill="none" stroke="#231f20" stroke-width="1.1"/>
<text x="470.65" y="245.70" font-size="6.0" text-anchor="middle">**</text>
<circle cx="462.90" cy="257.10" r="1.55" fill="#000"/>
<circle cx="462.90" cy="266.00" r="1.55" fill="#000"/>
<circle cx="459.70" cy="271.90" r="1.55" fill="#000"/>
<circle cx="465.80" cy="270.20" r="1.55" fill="#000"/>
<circle cx="462.90" cy="281.40" r="1.55" fill="#000"/>
<circle cx="462.90" cy="285.70" r="1.55" fill="#000"/>
<circle cx="474.40" cy="339.00" r="1.45" fill="#fff" stroke="#231f20" stroke-width="1.1"/>
<circle cx="472.50" cy="341.50" r="1.45" fill="#fff" stroke="#231f20" stroke-width="1.1"/>
<circle cx="476.50" cy="341.50" r="1.45" fill="#fff" stroke="#231f20" stroke-width="1.1"/>
<circle cx="478.50" cy="341.80" r="1.45" fill="#fff" stroke="#231f20" stroke-width="1.1"/>
<circle cx="494.40" cy="333.30" r="1.4" fill="#bd1252"/>
<circle cx="496.20" cy="332.20" r="1.4" fill="#bd1252"/>
<circle cx="499.80" cy="331.90" r="1.4" fill="#bd1252"/>
<circle cx="498.00" cy="334.10" r="1.4" fill="#bd1252"/>
<circle cx="500.20" cy="336.70" r="1.4" fill="#bd1252"/>
<circle cx="507.30" cy="330.70" r="1.45" fill="#fff" stroke="#bd1252" stroke-width="1.1"/>
<circle cx="510.20" cy="331.10" r="1.45" fill="#fff" stroke="#bd1252" stroke-width="1.1"/>
<circle cx="513.10" cy="330.70" r="1.45" fill="#fff" stroke="#bd1252" stroke-width="1.1"/>
<circle cx="508.60" cy="337.00" r="1.45" fill="#fff" stroke="#bd1252" stroke-width="1.1"/>
<circle cx="511.30" cy="336.30" r="1.45" fill="#fff" stroke="#bd1252" stroke-width="1.1"/>
</svg>
</body></html>
